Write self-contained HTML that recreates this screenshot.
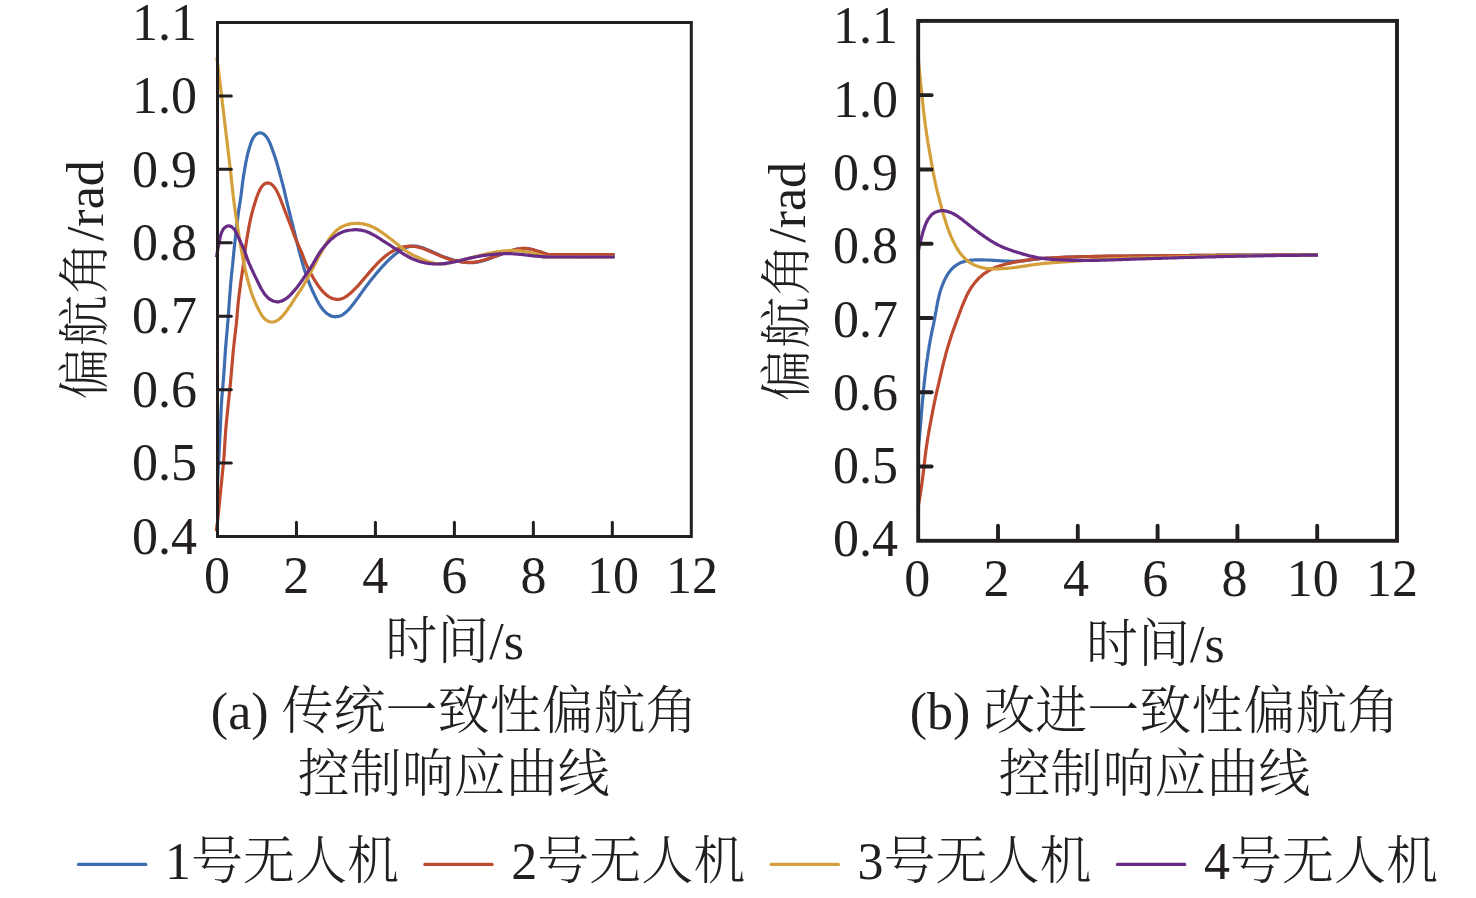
<!DOCTYPE html>
<html lang="zh"><head><meta charset="utf-8"><title>偏航角控制响应曲线</title>
<style>html,body{margin:0;padding:0;background:#fff}svg{display:block}</style></head>
<body>
<svg width="1476" height="898" viewBox="0 0 1476 898">
<rect width="1476" height="898" fill="#fff"/>
<g fill="none" stroke-width="3.2" stroke-linejoin="round" stroke-linecap="butt">
<path stroke="#3d6db0" d="M217.5 484.0C217.5 483.7 217.6 482.7 217.6 482.0C217.6 481.3 217.7 480.7 217.7 480.0C217.7 479.3 217.8 478.7 217.8 478.0C217.8 477.3 217.9 476.7 217.9 476.0C217.9 475.3 218.0 474.7 218.0 474.0C218.0 473.3 218.1 472.7 218.1 472.0C218.1 471.3 218.2 470.7 218.2 470.0C218.2 469.3 218.3 468.7 218.3 468.0C218.3 467.3 218.4 466.7 218.4 466.0C218.4 465.3 218.5 464.7 218.5 464.0C218.5 463.4 218.6 462.7 218.6 462.0C218.6 461.4 218.7 460.7 218.7 460.0C218.7 459.4 218.8 458.7 218.8 458.0C218.8 457.4 218.9 456.7 218.9 456.0C218.9 455.4 219.0 454.7 219.0 454.0C219.0 453.4 219.1 452.7 219.1 452.0C219.1 451.4 219.2 450.7 219.2 450.0C219.2 449.4 219.3 448.7 219.3 448.0C219.3 447.4 219.4 446.7 219.4 446.0C219.4 445.4 219.5 444.7 219.5 444.0C219.5 443.4 219.6 442.7 219.6 442.0C219.6 441.4 219.7 440.7 219.7 440.0C219.7 439.4 219.8 438.7 219.8 438.0C219.8 437.4 219.9 436.7 219.9 436.0C219.9 435.4 220.0 434.7 220.0 434.0C220.0 433.4 220.1 432.7 220.1 432.0C220.1 431.4 220.2 430.7 220.2 430.0C220.2 429.4 220.3 428.7 220.3 428.0C220.3 427.4 220.4 426.7 220.4 426.1C220.4 425.4 220.5 424.7 220.5 424.1C220.5 423.4 220.5 422.7 220.6 422.1C220.6 421.4 220.6 420.7 220.7 420.1C220.7 419.4 220.7 418.7 220.8 418.1C220.8 417.4 220.8 416.7 220.8 416.1C220.9 415.4 220.9 414.7 220.9 414.1C221.0 413.4 221.0 412.7 221.0 412.1C221.1 411.4 221.1 410.7 221.1 410.1C221.2 409.4 221.2 408.7 221.2 408.1C221.3 407.4 221.3 406.7 221.3 406.1C221.4 405.4 221.4 404.7 221.4 404.1C221.5 403.4 221.5 402.7 221.6 402.1C221.6 401.4 221.7 400.7 221.7 400.1C221.7 399.4 221.8 398.7 221.8 398.1C221.9 397.4 221.9 396.8 222.0 396.1C222.0 395.4 222.1 394.8 222.2 394.1C222.2 393.4 222.3 392.8 222.3 392.1C222.4 391.4 222.4 390.8 222.5 390.1C222.6 389.4 222.6 388.8 222.7 388.1C222.8 387.4 222.8 386.8 222.9 386.1C222.9 385.5 223.0 384.8 223.0 384.1C223.1 383.5 223.2 382.8 223.2 382.1C223.3 381.5 223.3 380.8 223.4 380.1C223.4 379.5 223.5 378.8 223.5 378.1C223.6 377.5 223.6 376.8 223.7 376.1C223.7 375.5 223.8 374.8 223.8 374.2C223.9 373.5 223.9 372.8 224.0 372.2C224.0 371.5 224.1 370.8 224.1 370.2C224.1 369.5 224.2 368.8 224.2 368.2C224.3 367.5 224.3 366.8 224.4 366.2C224.4 365.5 224.5 364.8 224.5 364.2C224.5 363.5 224.6 362.8 224.6 362.2C224.7 361.5 224.7 360.8 224.8 360.2C224.8 359.5 224.8 358.8 224.9 358.2C224.9 357.5 225.0 356.9 225.0 356.2C225.1 355.5 225.1 354.9 225.2 354.2C225.2 353.5 225.2 352.9 225.3 352.2C225.3 351.5 225.4 350.9 225.4 350.2C225.5 349.5 225.5 348.9 225.6 348.2C225.6 347.5 225.7 346.9 225.7 346.2C225.8 345.5 225.8 344.9 225.9 344.2C226.0 343.5 226.0 342.9 226.1 342.2C226.1 341.6 226.2 340.9 226.2 340.2C226.3 339.6 226.3 338.9 226.4 338.2C226.5 337.6 226.5 336.9 226.6 336.2C226.6 335.6 226.7 334.9 226.8 334.2C226.8 333.6 226.9 332.9 226.9 332.3C227.0 331.6 227.1 330.9 227.1 330.3C227.2 329.6 227.2 328.9 227.3 328.3C227.4 327.6 227.4 326.9 227.5 326.3C227.5 325.6 227.6 324.9 227.6 324.3C227.7 323.6 227.8 323.0 227.8 322.3C227.9 321.6 227.9 321.0 228.0 320.3C228.0 319.6 228.1 319.0 228.1 318.3C228.2 317.6 228.2 317.0 228.3 316.3C228.3 315.6 228.4 315.0 228.4 314.3C228.5 313.6 228.5 313.0 228.6 312.3C228.6 311.7 228.7 311.0 228.7 310.3C228.8 309.7 228.8 309.0 228.9 308.3C228.9 307.7 228.9 307.0 229.0 306.3C229.0 305.7 229.1 305.0 229.1 304.3C229.2 303.7 229.2 303.0 229.3 302.3C229.3 301.7 229.4 301.0 229.4 300.3C229.5 299.7 229.5 299.0 229.6 298.3C229.6 297.7 229.7 297.0 229.7 296.3C229.8 295.7 229.8 295.0 229.9 294.4C229.9 293.7 230.0 293.0 230.0 292.4C230.1 291.7 230.1 291.0 230.2 290.4C230.2 289.7 230.3 289.0 230.3 288.4C230.4 287.7 230.4 287.0 230.5 286.4C230.5 285.7 230.6 285.0 230.6 284.4C230.7 283.7 230.7 283.1 230.8 282.4C230.9 281.7 230.9 281.1 231.0 280.4C231.0 279.7 231.1 279.1 231.2 278.4C231.2 277.7 231.3 277.1 231.4 276.4C231.4 275.7 231.5 275.1 231.6 274.4C231.6 273.8 231.7 273.1 231.8 272.4C231.9 271.8 231.9 271.1 232.0 270.4C232.1 269.8 232.1 269.1 232.2 268.5C232.3 267.8 232.3 267.1 232.4 266.5C232.5 265.8 232.5 265.1 232.6 264.5C232.7 263.8 232.7 263.1 232.8 262.5C232.9 261.8 232.9 261.2 233.0 260.5C233.1 259.8 233.1 259.2 233.2 258.5C233.3 257.8 233.3 257.2 233.4 256.5C233.5 255.8 233.5 255.2 233.6 254.5C233.7 253.9 233.7 253.2 233.8 252.5C233.9 251.9 233.9 251.2 234.0 250.5C234.1 249.9 234.1 249.2 234.2 248.5C234.3 247.9 234.4 247.2 234.4 246.6C234.5 245.9 234.6 245.2 234.6 244.6C234.7 243.9 234.8 243.2 234.9 242.6C234.9 241.9 235.0 241.3 235.1 240.6C235.1 239.9 235.2 239.3 235.3 238.6C235.4 237.9 235.4 237.3 235.5 236.6C235.6 235.9 235.6 235.3 235.7 234.6C235.8 234.0 235.8 233.3 235.9 232.6C236.0 232.0 236.0 231.3 236.1 230.6C236.2 230.0 236.3 229.3 236.3 228.7C236.4 228.0 236.5 227.3 236.6 226.7C236.7 226.0 236.7 225.3 236.8 224.7C236.9 224.0 237.0 223.4 237.1 222.7C237.2 222.0 237.3 221.4 237.3 220.7C237.4 220.1 237.5 219.4 237.6 218.7C237.7 218.1 237.8 217.4 237.9 216.7C238.0 216.1 238.1 215.4 238.1 214.8C238.2 214.1 238.3 213.4 238.4 212.8C238.5 212.1 238.6 211.5 238.7 210.8C238.8 210.1 238.9 209.5 239.0 208.8C239.1 208.2 239.2 207.5 239.3 206.8C239.4 206.2 239.5 205.5 239.6 204.9C239.7 204.2 239.8 203.5 239.9 202.9C240.0 202.2 240.1 201.6 240.2 200.9C240.3 200.2 240.4 199.6 240.5 198.9C240.6 198.3 240.7 197.6 240.8 197.0C240.9 196.3 241.0 195.6 241.1 195.0C241.2 194.3 241.2 193.7 241.3 193.0C241.4 192.3 241.5 191.7 241.6 191.0C241.7 190.3 241.7 189.7 241.8 189.0C241.9 188.4 242.0 187.7 242.1 187.0C242.1 186.4 242.2 185.7 242.3 185.0C242.4 184.4 242.5 183.7 242.5 183.1C242.6 182.4 242.7 181.7 242.8 181.1C242.9 180.4 243.0 179.8 243.1 179.1C243.2 178.4 243.3 177.8 243.4 177.1C243.5 176.5 243.6 175.8 243.7 175.1C243.8 174.5 243.9 173.8 244.0 173.2C244.1 172.5 244.2 171.9 244.3 171.2C244.5 170.5 244.6 169.9 244.7 169.2C244.8 168.6 244.9 167.9 245.0 167.2C245.1 166.6 245.3 165.9 245.4 165.3C245.5 164.6 245.6 164.0 245.7 163.3C245.9 162.6 246.0 162.0 246.1 161.3C246.2 160.7 246.4 160.0 246.5 159.4C246.6 158.7 246.8 158.1 246.9 157.4C247.0 156.8 247.2 156.1 247.3 155.5C247.5 154.8 247.7 154.2 247.8 153.6C248.0 152.9 248.2 152.3 248.3 151.6C248.5 151.0 248.7 150.4 248.8 149.7C249.0 149.1 249.2 148.5 249.4 147.8C249.6 147.2 249.8 146.5 250.0 145.9C250.2 145.2 250.4 144.6 250.6 143.9C250.8 143.3 251.1 142.6 251.3 142.0C251.6 141.3 251.8 140.7 252.1 140.0C252.4 139.4 252.7 138.7 253.1 138.1C253.4 137.5 253.8 136.9 254.2 136.4C254.6 135.9 255.0 135.4 255.5 134.9C255.9 134.5 256.4 134.1 256.9 133.8C257.5 133.5 258.0 133.2 258.6 133.1C259.1 132.9 259.7 132.9 260.3 132.9C260.8 132.9 261.4 133.0 262.0 133.2C262.5 133.4 263.1 133.7 263.6 134.1C264.1 134.4 264.6 134.9 265.1 135.3C265.6 135.8 266.0 136.3 266.4 136.8C266.8 137.4 267.2 138.0 267.6 138.6C268.0 139.2 268.3 139.8 268.6 140.4C268.9 141.0 269.2 141.7 269.5 142.3C269.8 142.9 270.1 143.6 270.3 144.2C270.6 144.8 270.8 145.5 271.1 146.1C271.3 146.7 271.6 147.3 271.8 148.0C272.0 148.6 272.3 149.2 272.5 149.8C272.7 150.4 272.9 151.1 273.1 151.7C273.4 152.3 273.6 152.9 273.8 153.6C274.0 154.2 274.2 154.8 274.4 155.4C274.6 156.1 274.8 156.7 275.1 157.3C275.3 158.0 275.5 158.6 275.7 159.2C275.9 159.9 276.1 160.5 276.3 161.1C276.5 161.8 276.7 162.4 276.9 163.1C277.1 163.7 277.2 164.3 277.4 165.0C277.6 165.6 277.8 166.3 278.0 166.9C278.2 167.5 278.4 168.2 278.5 168.8C278.7 169.5 278.9 170.1 279.1 170.8C279.2 171.4 279.4 172.0 279.6 172.7C279.8 173.3 279.9 174.0 280.1 174.6C280.3 175.3 280.5 175.9 280.6 176.6C280.8 177.2 281.0 177.8 281.1 178.5C281.3 179.1 281.5 179.8 281.7 180.4C281.8 181.1 282.0 181.7 282.2 182.4C282.4 183.0 282.5 183.6 282.7 184.3C282.9 184.9 283.0 185.6 283.2 186.2C283.4 186.9 283.5 187.5 283.7 188.2C283.9 188.8 284.0 189.5 284.2 190.1C284.3 190.8 284.5 191.4 284.6 192.1C284.8 192.7 284.9 193.4 285.1 194.0C285.2 194.7 285.4 195.3 285.5 196.0C285.6 196.6 285.8 197.3 285.9 197.9C286.1 198.6 286.2 199.2 286.4 199.9C286.5 200.5 286.7 201.2 286.8 201.8C287.0 202.5 287.2 203.1 287.3 203.7C287.5 204.4 287.6 205.0 287.8 205.7C288.0 206.3 288.1 207.0 288.3 207.6C288.5 208.3 288.6 208.9 288.8 209.6C288.9 210.2 289.1 210.9 289.3 211.5C289.4 212.2 289.6 212.8 289.8 213.4C289.9 214.1 290.1 214.7 290.2 215.4C290.4 216.0 290.6 216.7 290.7 217.3C290.9 218.0 291.1 218.6 291.2 219.3C291.4 219.9 291.5 220.6 291.7 221.2C291.9 221.9 292.0 222.5 292.2 223.2C292.3 223.8 292.5 224.4 292.7 225.1C292.8 225.7 293.0 226.4 293.2 227.0C293.3 227.7 293.5 228.3 293.6 229.0C293.8 229.6 294.0 230.3 294.1 230.9C294.3 231.6 294.5 232.2 294.6 232.9C294.8 233.5 295.0 234.1 295.1 234.8C295.3 235.4 295.5 236.1 295.6 236.7C295.8 237.4 295.9 238.0 296.1 238.7C296.3 239.3 296.4 240.0 296.6 240.6C296.7 241.3 296.9 241.9 297.1 242.6C297.2 243.2 297.4 243.9 297.5 244.5C297.7 245.1 297.9 245.8 298.0 246.4C298.2 247.1 298.3 247.7 298.5 248.4C298.7 249.0 298.8 249.7 299.0 250.3C299.2 251.0 299.3 251.6 299.5 252.3C299.7 252.9 299.8 253.6 300.0 254.2C300.2 254.8 300.3 255.5 300.5 256.1C300.7 256.8 300.9 257.4 301.0 258.1C301.2 258.7 301.4 259.3 301.6 260.0C301.7 260.6 301.9 261.3 302.1 261.9C302.3 262.6 302.5 263.2 302.7 263.8C302.8 264.5 303.0 265.1 303.2 265.8C303.4 266.4 303.6 267.0 303.8 267.7C304.0 268.3 304.2 268.9 304.4 269.6C304.6 270.2 304.8 270.9 305.0 271.5C305.2 272.1 305.4 272.8 305.7 273.4C305.9 274.0 306.1 274.6 306.3 275.3C306.5 275.9 306.8 276.5 307.0 277.2C307.2 277.8 307.4 278.4 307.7 279.0C307.9 279.7 308.1 280.3 308.4 280.9C308.6 281.5 308.9 282.2 309.1 282.8C309.3 283.4 309.6 284.0 309.8 284.6C310.1 285.3 310.3 285.9 310.6 286.5C310.9 287.1 311.1 287.7 311.4 288.3C311.7 288.9 311.9 289.5 312.2 290.2C312.5 290.8 312.8 291.4 313.0 292.0C313.3 292.6 313.6 293.2 313.9 293.8C314.2 294.4 314.5 295.0 314.7 295.6C315.0 296.2 315.3 296.8 315.6 297.4C315.9 298.0 316.2 298.6 316.5 299.2C316.8 299.8 317.1 300.4 317.4 300.9C317.7 301.5 318.0 302.1 318.4 302.7C318.7 303.3 319.0 303.9 319.4 304.4C319.7 305.0 320.1 305.6 320.4 306.1C320.8 306.7 321.2 307.2 321.6 307.8C322.0 308.3 322.4 308.9 322.8 309.4C323.2 309.9 323.7 310.4 324.1 310.9C324.6 311.4 325.1 311.9 325.6 312.4C326.1 312.8 326.6 313.3 327.1 313.7C327.7 314.1 328.2 314.4 328.8 314.8C329.4 315.1 330.0 315.4 330.6 315.7C331.2 316.0 331.8 316.2 332.4 316.3C333.1 316.5 333.7 316.6 334.4 316.7C335.0 316.8 335.7 316.8 336.3 316.7C337.0 316.7 337.6 316.6 338.3 316.5C338.9 316.3 339.5 316.1 340.2 315.9C340.8 315.7 341.4 315.4 342.0 315.1C342.5 314.8 343.1 314.4 343.7 314.0C344.2 313.6 344.8 313.2 345.3 312.8C345.8 312.4 346.3 311.9 346.8 311.4C347.3 311.0 347.7 310.5 348.2 310.0C348.7 309.5 349.1 309.0 349.6 308.5C350.0 308.0 350.4 307.5 350.9 306.9C351.3 306.4 351.7 305.9 352.1 305.4C352.6 304.9 353.0 304.4 353.4 303.8C353.8 303.3 354.2 302.8 354.6 302.3C355.0 301.7 355.4 301.2 355.8 300.7C356.2 300.1 356.6 299.6 357.0 299.1C357.4 298.5 357.8 298.0 358.2 297.5C358.6 296.9 359.0 296.4 359.4 295.8C359.8 295.3 360.1 294.8 360.5 294.2C360.9 293.7 361.3 293.1 361.7 292.6C362.1 292.0 362.5 291.5 362.8 290.9C363.2 290.4 363.6 289.9 364.0 289.3C364.4 288.8 364.8 288.2 365.2 287.7C365.6 287.1 366.0 286.6 366.4 286.1C366.8 285.5 367.2 285.0 367.6 284.5C368.0 284.0 368.4 283.4 368.8 282.9C369.2 282.4 369.6 281.8 370.0 281.3C370.4 280.8 370.9 280.3 371.3 279.8C371.7 279.2 372.1 278.7 372.5 278.2C372.9 277.7 373.4 277.2 373.8 276.7C374.2 276.1 374.6 275.6 375.1 275.1C375.5 274.6 375.9 274.1 376.3 273.6C376.8 273.1 377.2 272.5 377.6 272.0C378.1 271.5 378.5 271.0 378.9 270.5C379.4 270.0 379.8 269.5 380.2 269.0C380.7 268.5 381.1 268.0 381.6 267.5C382.0 267.0 382.5 266.5 382.9 266.0C383.4 265.5 383.8 265.1 384.3 264.6C384.7 264.1 385.2 263.6 385.7 263.1C386.1 262.6 386.6 262.2 387.1 261.7C387.5 261.2 388.0 260.7 388.5 260.3C388.9 259.8 389.4 259.3 389.9 258.9C390.4 258.4 390.9 258.0 391.4 257.5C391.9 257.1 392.4 256.6 392.9 256.2C393.4 255.8 393.9 255.3 394.4 254.9C394.9 254.5 395.5 254.1 396.0 253.7C396.5 253.3 397.1 252.9 397.6 252.5C398.1 252.1 398.7 251.7 399.3 251.4C399.8 251.0 400.4 250.6 401.0 250.3C401.5 249.9 402.1 249.6 402.7 249.3C403.3 248.9 403.9 248.6 404.5 248.3C405.1 248.0 405.7 247.8 406.3 247.5C407.0 247.3 407.6 247.1 408.2 246.9C408.9 246.7 409.5 246.5 410.1 246.4C410.8 246.3 411.4 246.2 412.1 246.1C412.7 246.1 413.4 246.0 414.1 246.0C414.7 246.1 415.4 246.1 416.0 246.2C416.7 246.3 417.3 246.4 418.0 246.5C418.6 246.6 419.3 246.8 419.9 247.0C420.6 247.1 421.2 247.3 421.9 247.6C422.5 247.8 423.1 248.0 423.8 248.2C424.4 248.5 425.0 248.7 425.6 249.0C426.3 249.2 426.9 249.5 427.5 249.7C428.1 250.0 428.7 250.3 429.3 250.5C430.0 250.8 430.6 251.1 431.2 251.3C431.8 251.6 432.4 251.9 433.0 252.2C433.6 252.4 434.2 252.7 434.8 253.0C435.4 253.3 436.0 253.5 436.6 253.8C437.3 254.1 437.9 254.3 438.5 254.6C439.1 254.9 439.7 255.1 440.3 255.4C440.9 255.7 441.5 255.9 442.2 256.2C442.8 256.4 443.4 256.7 444.0 256.9C444.6 257.1 445.3 257.4 445.9 257.6C446.5 257.8 447.1 258.0 447.8 258.2C448.4 258.5 449.0 258.7 449.7 258.9C450.3 259.1 451.0 259.3 451.6 259.4C452.2 259.6 452.9 259.8 453.5 260.0C454.2 260.2 454.8 260.3 455.5 260.5C456.1 260.7 456.8 260.8 457.4 261.0C458.1 261.1 458.7 261.3 459.4 261.4C460.0 261.6 460.7 261.7 461.3 261.8C462.0 261.9 462.6 262.0 463.3 262.1C464.0 262.2 464.6 262.3 465.3 262.4C465.9 262.5 466.6 262.5 467.3 262.6C467.9 262.6 468.6 262.7 469.3 262.7C469.9 262.7 470.6 262.7 471.3 262.7C471.9 262.6 472.6 262.6 473.3 262.6C473.9 262.5 474.6 262.4 475.3 262.4C475.9 262.3 476.6 262.2 477.2 262.1C477.9 262.0 478.5 261.8 479.2 261.7C479.9 261.6 480.5 261.4 481.1 261.3C481.8 261.1 482.4 260.9 483.1 260.7C483.7 260.6 484.4 260.4 485.0 260.2C485.6 260.0 486.3 259.8 486.9 259.5C487.5 259.3 488.2 259.1 488.8 258.9C489.4 258.7 490.0 258.4 490.7 258.2C491.3 258.0 491.9 257.7 492.6 257.5C493.2 257.3 493.8 257.1 494.4 256.8C495.1 256.6 495.7 256.4 496.3 256.1C496.9 255.9 497.6 255.7 498.2 255.5C498.8 255.2 499.4 255.0 500.1 254.8C500.7 254.6 501.3 254.3 502.0 254.1C502.6 253.9 503.2 253.7 503.8 253.4C504.5 253.2 505.1 253.0 505.7 252.8C506.4 252.5 507.0 252.3 507.6 252.1C508.2 251.9 508.9 251.6 509.5 251.4C510.1 251.2 510.8 251.0 511.4 250.8C512.0 250.6 512.7 250.3 513.3 250.2C514.0 250.0 514.6 249.8 515.2 249.6C515.9 249.4 516.5 249.3 517.2 249.2C517.8 249.0 518.5 248.9 519.2 248.8C519.8 248.7 520.5 248.6 521.1 248.6C521.8 248.5 522.5 248.5 523.1 248.4C523.8 248.4 524.5 248.4 525.1 248.5C525.8 248.5 526.5 248.5 527.1 248.6C527.8 248.7 528.4 248.8 529.1 248.9C529.8 249.0 530.4 249.1 531.1 249.2C531.7 249.4 532.4 249.5 533.0 249.7C533.7 249.9 534.3 250.1 534.9 250.3C535.6 250.4 536.2 250.7 536.9 250.9C537.5 251.1 538.1 251.3 538.8 251.5C539.4 251.7 540.0 251.9 540.7 252.1C541.3 252.3 541.9 252.5 542.6 252.7C543.2 252.9 543.8 253.2 544.5 253.4C545.1 253.6 545.7 253.7 546.4 253.9C547.0 254.1 536.9 254.4 548.3 254.5C559.7 254.6 603.6 254.5 614.7 254.5"/>
<path stroke="#be4b2f" d="M216.3 531.0C216.3 530.7 216.5 529.7 216.6 529.0C216.6 528.4 216.7 527.7 216.8 527.0C216.9 526.4 217.0 525.7 217.1 525.0C217.1 524.4 217.2 523.7 217.3 523.1C217.4 522.4 217.5 521.7 217.6 521.1C217.6 520.4 217.7 519.7 217.8 519.1C217.9 518.4 217.9 517.8 218.0 517.1C218.1 516.4 218.2 515.8 218.2 515.1C218.3 514.4 218.4 513.8 218.4 513.1C218.5 512.4 218.6 511.8 218.6 511.1C218.7 510.5 218.8 509.8 218.8 509.1C218.9 508.5 219.0 507.8 219.0 507.1C219.1 506.5 219.2 505.8 219.2 505.1C219.3 504.5 219.3 503.8 219.4 503.1C219.5 502.5 219.5 501.8 219.6 501.2C219.7 500.5 219.7 499.8 219.8 499.2C219.9 498.5 219.9 497.8 220.0 497.2C220.1 496.5 220.1 495.8 220.2 495.2C220.3 494.5 220.3 493.9 220.4 493.2C220.5 492.5 220.5 491.9 220.6 491.2C220.7 490.5 220.7 489.9 220.8 489.2C220.9 488.5 220.9 487.9 221.0 487.2C221.1 486.5 221.1 485.9 221.2 485.2C221.3 484.6 221.3 483.9 221.4 483.2C221.5 482.6 221.5 481.9 221.6 481.2C221.7 480.6 221.7 479.9 221.8 479.2C221.9 478.6 222.0 477.9 222.0 477.3C222.1 476.6 222.2 475.9 222.2 475.3C222.3 474.6 222.4 473.9 222.4 473.3C222.5 472.6 222.6 471.9 222.6 471.3C222.7 470.6 222.8 470.0 222.8 469.3C222.9 468.6 223.0 468.0 223.0 467.3C223.1 466.6 223.2 466.0 223.2 465.3C223.3 464.6 223.4 464.0 223.4 463.3C223.5 462.6 223.5 462.0 223.6 461.3C223.6 460.6 223.7 460.0 223.8 459.3C223.8 458.7 223.9 458.0 223.9 457.3C224.0 456.7 224.0 456.0 224.1 455.3C224.1 454.7 224.2 454.0 224.2 453.3C224.2 452.7 224.3 452.0 224.3 451.3C224.4 450.7 224.4 450.0 224.5 449.3C224.5 448.7 224.6 448.0 224.6 447.3C224.6 446.7 224.7 446.0 224.7 445.3C224.8 444.7 224.8 444.0 224.8 443.3C224.9 442.7 224.9 442.0 225.0 441.3C225.0 440.7 225.1 440.0 225.1 439.3C225.1 438.7 225.2 438.0 225.2 437.3C225.3 436.7 225.3 436.0 225.4 435.3C225.4 434.7 225.4 434.0 225.5 433.4C225.5 432.7 225.6 432.0 225.6 431.4C225.7 430.7 225.7 430.0 225.8 429.4C225.8 428.7 225.9 428.0 225.9 427.4C226.0 426.7 226.1 426.0 226.1 425.4C226.2 424.7 226.2 424.0 226.3 423.4C226.4 422.7 226.4 422.0 226.5 421.4C226.5 420.7 226.6 420.1 226.7 419.4C226.7 418.7 226.8 418.1 226.9 417.4C226.9 416.7 227.0 416.1 227.1 415.4C227.1 414.7 227.2 414.1 227.3 413.4C227.4 412.8 227.4 412.1 227.5 411.4C227.6 410.8 227.6 410.1 227.7 409.4C227.8 408.8 227.8 408.1 227.9 407.4C228.0 406.8 228.1 406.1 228.1 405.5C228.2 404.8 228.3 404.1 228.3 403.5C228.4 402.8 228.5 402.1 228.5 401.5C228.6 400.8 228.7 400.1 228.8 399.5C228.8 398.8 228.9 398.2 229.0 397.5C229.0 396.8 229.1 396.2 229.2 395.5C229.2 394.8 229.3 394.2 229.4 393.5C229.4 392.8 229.5 392.2 229.6 391.5C229.6 390.8 229.7 390.2 229.8 389.5C229.8 388.9 229.9 388.2 230.0 387.5C230.0 386.9 230.1 386.2 230.2 385.5C230.2 384.9 230.3 384.2 230.4 383.5C230.4 382.9 230.5 382.2 230.6 381.6C230.6 380.9 230.7 380.2 230.7 379.6C230.8 378.9 230.9 378.2 230.9 377.6C231.0 376.9 231.0 376.2 231.1 375.6C231.2 374.9 231.2 374.2 231.3 373.6C231.3 372.9 231.4 372.2 231.5 371.6C231.5 370.9 231.6 370.3 231.6 369.6C231.7 368.9 231.8 368.3 231.8 367.6C231.9 366.9 231.9 366.3 232.0 365.6C232.0 364.9 232.1 364.3 232.2 363.6C232.2 362.9 232.3 362.3 232.3 361.6C232.4 360.9 232.4 360.3 232.5 359.6C232.6 358.9 232.6 358.3 232.7 357.6C232.7 357.0 232.8 356.3 232.9 355.6C232.9 355.0 233.0 354.3 233.0 353.6C233.1 353.0 233.2 352.3 233.2 351.6C233.3 351.0 233.3 350.3 233.4 349.6C233.5 349.0 233.5 348.3 233.6 347.7C233.7 347.0 233.7 346.3 233.8 345.7C233.9 345.0 233.9 344.3 234.0 343.7C234.1 343.0 234.2 342.3 234.2 341.7C234.3 341.0 234.4 340.4 234.5 339.7C234.5 339.0 234.6 338.4 234.7 337.7C234.8 337.0 234.8 336.4 234.9 335.7C235.0 335.1 235.1 334.4 235.2 333.7C235.2 333.1 235.3 332.4 235.4 331.7C235.5 331.1 235.6 330.4 235.6 329.8C235.7 329.1 235.8 328.4 235.9 327.8C235.9 327.1 236.0 326.4 236.1 325.8C236.2 325.1 236.2 324.4 236.3 323.8C236.4 323.1 236.5 322.5 236.5 321.8C236.6 321.1 236.7 320.5 236.7 319.8C236.8 319.1 236.8 318.5 236.9 317.8C237.0 317.1 237.0 316.5 237.1 315.8C237.1 315.1 237.2 314.5 237.2 313.8C237.3 313.2 237.4 312.5 237.4 311.8C237.5 311.2 237.5 310.5 237.6 309.8C237.6 309.2 237.7 308.5 237.7 307.8C237.8 307.2 237.8 306.5 237.9 305.8C238.0 305.2 238.0 304.5 238.1 303.8C238.1 303.2 238.2 302.5 238.3 301.9C238.3 301.2 238.4 300.5 238.5 299.9C238.6 299.2 238.6 298.5 238.7 297.9C238.8 297.2 238.9 296.5 239.0 295.9C239.0 295.2 239.1 294.6 239.2 293.9C239.3 293.2 239.4 292.6 239.5 291.9C239.6 291.3 239.7 290.6 239.7 289.9C239.8 289.3 239.9 288.6 240.0 287.9C240.1 287.3 240.2 286.6 240.3 286.0C240.4 285.3 240.5 284.6 240.5 284.0C240.6 283.3 240.7 282.7 240.8 282.0C240.9 281.3 241.0 280.7 241.1 280.0C241.2 279.3 241.3 278.7 241.4 278.0C241.5 277.4 241.6 276.7 241.7 276.0C241.8 275.4 241.9 274.7 242.0 274.1C242.1 273.4 242.2 272.8 242.3 272.1C242.4 271.4 242.5 270.8 242.6 270.1C242.7 269.5 242.8 268.8 242.9 268.1C243.0 267.5 243.1 266.8 243.2 266.2C243.3 265.5 243.4 264.8 243.5 264.2C243.6 263.5 243.6 262.8 243.7 262.2C243.8 261.5 243.9 260.9 244.0 260.2C244.0 259.5 244.1 258.9 244.2 258.2C244.3 257.5 244.3 256.9 244.4 256.2C244.5 255.6 244.6 254.9 244.7 254.2C244.7 253.6 244.8 252.9 244.9 252.2C245.0 251.6 245.1 250.9 245.1 250.3C245.2 249.6 245.3 248.9 245.4 248.3C245.5 247.6 245.6 247.0 245.7 246.3C245.8 245.6 245.9 245.0 246.0 244.3C246.1 243.7 246.2 243.0 246.3 242.3C246.4 241.7 246.5 241.0 246.6 240.4C246.7 239.7 246.8 239.0 246.9 238.4C247.0 237.7 247.2 237.1 247.3 236.4C247.4 235.8 247.5 235.1 247.6 234.4C247.7 233.8 247.8 233.1 248.0 232.5C248.1 231.8 248.2 231.2 248.3 230.5C248.4 229.8 248.6 229.2 248.7 228.5C248.8 227.9 248.9 227.2 249.0 226.6C249.2 225.9 249.3 225.3 249.4 224.6C249.6 223.9 249.7 223.3 249.8 222.6C250.0 222.0 250.1 221.3 250.2 220.7C250.4 220.0 250.5 219.4 250.6 218.7C250.8 218.1 250.9 217.4 251.1 216.8C251.2 216.1 251.4 215.5 251.6 214.8C251.7 214.2 251.9 213.5 252.0 212.9C252.2 212.2 252.4 211.6 252.6 210.9C252.7 210.3 252.9 209.6 253.1 209.0C253.3 208.4 253.5 207.7 253.6 207.1C253.8 206.4 254.0 205.8 254.2 205.2C254.4 204.5 254.6 203.9 254.8 203.3C255.0 202.6 255.2 202.0 255.4 201.4C255.6 200.8 255.8 200.1 256.0 199.5C256.2 198.9 256.4 198.2 256.6 197.6C256.9 197.0 257.1 196.3 257.3 195.7C257.6 195.1 257.8 194.4 258.1 193.8C258.3 193.2 258.6 192.5 258.9 191.9C259.2 191.2 259.4 190.6 259.8 190.0C260.1 189.3 260.4 188.7 260.8 188.1C261.2 187.5 261.5 186.9 262.0 186.4C262.4 185.9 262.8 185.4 263.3 184.9C263.7 184.5 264.2 184.1 264.7 183.8C265.3 183.5 265.8 183.2 266.3 183.1C266.9 183.0 267.4 182.9 268.0 182.9C268.5 183.0 269.1 183.1 269.7 183.3C270.2 183.5 270.7 183.8 271.3 184.2C271.8 184.5 272.3 184.9 272.8 185.4C273.3 185.9 273.7 186.4 274.1 186.9C274.6 187.5 275.0 188.1 275.4 188.6C275.8 189.2 276.1 189.8 276.5 190.4C276.8 191.0 277.1 191.7 277.5 192.3C277.8 192.9 278.1 193.5 278.3 194.1C278.6 194.8 278.9 195.4 279.2 196.0C279.4 196.6 279.7 197.2 279.9 197.8C280.2 198.5 280.4 199.1 280.7 199.7C280.9 200.3 281.2 200.9 281.4 201.5C281.6 202.1 281.9 202.8 282.1 203.4C282.3 204.0 282.6 204.6 282.8 205.2C283.1 205.9 283.3 206.5 283.5 207.1C283.8 207.7 284.0 208.4 284.2 209.0C284.5 209.6 284.7 210.2 285.0 210.9C285.2 211.5 285.4 212.1 285.7 212.7C285.9 213.3 286.2 214.0 286.4 214.6C286.7 215.2 286.9 215.8 287.1 216.5C287.4 217.1 287.6 217.7 287.9 218.3C288.1 218.9 288.3 219.6 288.6 220.2C288.8 220.8 289.1 221.4 289.3 222.1C289.6 222.7 289.8 223.3 290.0 223.9C290.3 224.5 290.5 225.2 290.7 225.8C291.0 226.4 291.2 227.0 291.5 227.7C291.7 228.3 291.9 228.9 292.2 229.5C292.4 230.2 292.6 230.8 292.9 231.4C293.1 232.0 293.3 232.7 293.5 233.3C293.8 233.9 294.0 234.6 294.2 235.2C294.5 235.8 294.7 236.4 294.9 237.1C295.2 237.7 295.4 238.3 295.7 238.9C295.9 239.5 296.2 240.2 296.4 240.8C296.7 241.4 296.9 242.0 297.2 242.6C297.5 243.2 297.7 243.8 298.0 244.4C298.3 245.1 298.6 245.7 298.8 246.3C299.1 246.9 299.4 247.5 299.7 248.1C300.0 248.7 300.2 249.3 300.5 249.9C300.8 250.5 301.0 251.1 301.3 251.7C301.6 252.3 301.8 253.0 302.1 253.6C302.3 254.2 302.6 254.8 302.8 255.4C303.0 256.1 303.3 256.7 303.5 257.3C303.7 257.9 303.9 258.6 304.2 259.2C304.4 259.8 304.6 260.5 304.9 261.1C305.1 261.7 305.4 262.3 305.6 262.9C305.9 263.6 306.1 264.2 306.4 264.8C306.7 265.4 306.9 266.0 307.2 266.6C307.5 267.2 307.8 267.8 308.1 268.4C308.4 269.0 308.7 269.6 309.0 270.2C309.3 270.8 309.6 271.4 309.9 271.9C310.3 272.5 310.6 273.1 310.9 273.7C311.2 274.3 311.6 274.9 311.9 275.4C312.2 276.0 312.6 276.6 312.9 277.2C313.2 277.8 313.6 278.3 313.9 278.9C314.2 279.5 314.6 280.1 314.9 280.6C315.3 281.2 315.7 281.8 316.0 282.3C316.4 282.9 316.7 283.4 317.1 284.0C317.5 284.5 317.9 285.1 318.2 285.6C318.6 286.2 319.0 286.7 319.4 287.3C319.8 287.8 320.2 288.3 320.6 288.8C321.0 289.4 321.5 289.9 321.9 290.4C322.3 290.9 322.8 291.4 323.2 291.9C323.7 292.4 324.2 292.9 324.7 293.3C325.1 293.8 325.6 294.2 326.2 294.7C326.7 295.1 327.2 295.5 327.8 295.9C328.3 296.3 328.9 296.7 329.4 297.0C330.0 297.4 330.6 297.7 331.2 298.0C331.8 298.3 332.5 298.5 333.1 298.7C333.7 298.9 334.4 299.1 335.0 299.2C335.6 299.3 336.3 299.4 337.0 299.4C337.6 299.5 338.3 299.4 338.9 299.4C339.5 299.3 340.2 299.2 340.8 299.0C341.5 298.9 342.1 298.6 342.7 298.4C343.3 298.1 343.9 297.9 344.5 297.5C345.1 297.2 345.7 296.9 346.2 296.5C346.8 296.1 347.3 295.7 347.9 295.3C348.4 294.9 348.9 294.5 349.5 294.0C350.0 293.6 350.5 293.1 351.0 292.7C351.5 292.2 352.0 291.8 352.5 291.3C352.9 290.9 353.4 290.4 353.9 289.9C354.4 289.4 354.8 289.0 355.3 288.5C355.8 288.0 356.2 287.5 356.7 287.1C357.2 286.6 357.6 286.1 358.1 285.6C358.5 285.1 359.0 284.6 359.4 284.1C359.8 283.6 360.3 283.1 360.7 282.6C361.2 282.1 361.6 281.6 362.0 281.1C362.5 280.6 362.9 280.1 363.3 279.6C363.8 279.1 364.2 278.6 364.6 278.1C365.0 277.5 365.5 277.0 365.9 276.5C366.3 276.0 366.8 275.5 367.2 275.0C367.6 274.5 368.0 274.0 368.5 273.5C368.9 272.9 369.3 272.4 369.8 271.9C370.2 271.4 370.7 270.9 371.1 270.4C371.5 269.9 372.0 269.4 372.4 268.9C372.9 268.4 373.3 267.9 373.8 267.4C374.2 266.9 374.7 266.5 375.1 266.0C375.6 265.5 376.0 265.0 376.5 264.5C376.9 264.0 377.4 263.5 377.9 263.1C378.3 262.6 378.8 262.1 379.3 261.6C379.8 261.2 380.2 260.7 380.7 260.2C381.2 259.8 381.7 259.3 382.2 258.9C382.7 258.4 383.2 258.0 383.7 257.5C384.2 257.1 384.7 256.6 385.2 256.2C385.7 255.8 386.2 255.4 386.8 255.0C387.3 254.6 387.8 254.2 388.4 253.8C388.9 253.4 389.5 253.1 390.0 252.7C390.6 252.4 391.2 252.0 391.8 251.7C392.3 251.4 392.9 251.0 393.5 250.7C394.1 250.4 394.7 250.1 395.3 249.8C395.9 249.5 396.5 249.3 397.1 249.0C397.7 248.7 398.4 248.5 399.0 248.3C399.6 248.0 400.3 247.8 400.9 247.6C401.5 247.4 402.2 247.3 402.8 247.1C403.5 247.0 404.1 246.8 404.8 246.7C405.4 246.6 406.1 246.5 406.8 246.4C407.4 246.3 408.1 246.3 408.8 246.2C409.4 246.2 410.1 246.2 410.8 246.2C411.4 246.2 412.1 246.2 412.8 246.3C413.4 246.3 414.1 246.4 414.8 246.5C415.4 246.5 416.1 246.6 416.7 246.8C417.4 246.9 418.0 247.0 418.7 247.2C419.3 247.4 420.0 247.5 420.6 247.7C421.2 247.9 421.9 248.1 422.5 248.3C423.2 248.5 423.8 248.8 424.4 249.0C425.0 249.2 425.7 249.5 426.3 249.7C426.9 250.0 427.5 250.2 428.1 250.5C428.7 250.8 429.4 251.0 430.0 251.3C430.6 251.6 431.2 251.8 431.8 252.1C432.4 252.4 433.0 252.7 433.6 252.9C434.2 253.2 434.8 253.5 435.5 253.7C436.1 254.0 436.7 254.3 437.3 254.6C437.9 254.8 438.5 255.1 439.1 255.4C439.7 255.6 440.3 255.9 441.0 256.1C441.6 256.4 442.2 256.6 442.8 256.9C443.4 257.1 444.1 257.3 444.7 257.6C445.3 257.8 446.0 258.0 446.6 258.2C447.2 258.4 447.9 258.6 448.5 258.8C449.1 259.0 449.8 259.2 450.4 259.4C451.0 259.6 451.7 259.8 452.3 260.0C453.0 260.1 453.6 260.3 454.3 260.4C454.9 260.6 455.6 260.7 456.2 260.9C456.9 261.0 457.5 261.2 458.2 261.3C458.9 261.4 459.5 261.5 460.2 261.6C460.8 261.7 461.5 261.8 462.2 261.9C462.8 262.0 463.5 262.1 464.1 262.1C464.8 262.2 465.5 262.2 466.1 262.3C466.8 262.3 467.5 262.3 468.1 262.4C468.8 262.4 469.5 262.4 470.1 262.3C470.8 262.3 471.5 262.3 472.1 262.3C472.8 262.2 473.5 262.1 474.1 262.1C474.8 262.0 475.5 261.9 476.1 261.8C476.8 261.7 477.4 261.6 478.1 261.5C478.7 261.3 479.4 261.2 480.0 261.0C480.7 260.9 481.3 260.7 482.0 260.6C482.6 260.4 483.3 260.2 483.9 260.0C484.6 259.8 485.2 259.7 485.8 259.5C486.5 259.3 487.1 259.1 487.8 258.8C488.4 258.6 489.0 258.4 489.6 258.2C490.3 258.0 490.9 257.8 491.5 257.6C492.2 257.3 492.8 257.1 493.4 256.9C494.1 256.7 494.7 256.4 495.3 256.2C495.9 256.0 496.6 255.8 497.2 255.5C497.8 255.3 498.5 255.1 499.1 254.9C499.7 254.6 500.3 254.4 501.0 254.2C501.6 254.0 502.2 253.7 502.9 253.5C503.5 253.3 504.1 253.1 504.7 252.9C505.4 252.6 506.0 252.4 506.6 252.2C507.3 252.0 507.9 251.8 508.5 251.6C509.2 251.3 509.8 251.1 510.4 250.9C511.1 250.7 511.7 250.5 512.4 250.3C513.0 250.1 513.6 249.9 514.3 249.8C514.9 249.6 515.6 249.4 516.2 249.3C516.9 249.1 517.5 249.0 518.2 248.9C518.8 248.7 519.5 248.6 520.2 248.6C520.8 248.5 521.5 248.4 522.2 248.4C522.8 248.4 523.5 248.3 524.1 248.3C524.8 248.3 525.5 248.4 526.1 248.4C526.8 248.5 527.5 248.5 528.1 248.6C528.8 248.7 529.4 248.8 530.1 249.0C530.8 249.1 531.4 249.2 532.1 249.4C532.7 249.5 533.4 249.7 534.0 249.9C534.6 250.1 535.3 250.3 535.9 250.5C536.6 250.6 537.2 250.9 537.8 251.1C538.5 251.3 539.1 251.5 539.7 251.7C540.4 251.9 541.0 252.1 541.6 252.3C542.3 252.6 542.9 252.8 543.5 253.0C544.2 253.2 544.8 253.4 545.4 253.6C546.1 253.8 546.9 254.1 547.3 254.2C547.8 254.4 537.1 254.5 548.3 254.5C559.5 254.5 603.6 254.5 614.7 254.5"/>
<path stroke="#d4a03b" d="M216.9 57.5C216.9 57.8 217.1 58.8 217.1 59.5C217.2 60.1 217.3 60.8 217.4 61.5C217.5 62.1 217.5 62.8 217.6 63.5C217.7 64.1 217.8 64.8 217.9 65.4C217.9 66.1 218.0 66.8 218.1 67.4C218.2 68.1 218.3 68.8 218.3 69.4C218.4 70.1 218.5 70.7 218.6 71.4C218.7 72.1 218.8 72.7 218.8 73.4C218.9 74.0 219.0 74.7 219.1 75.4C219.2 76.0 219.2 76.7 219.3 77.4C219.4 78.0 219.5 78.7 219.6 79.3C219.6 80.0 219.7 80.7 219.8 81.3C219.9 82.0 220.0 82.7 220.0 83.3C220.1 84.0 220.2 84.6 220.3 85.3C220.4 86.0 220.4 86.6 220.5 87.3C220.6 88.0 220.7 88.6 220.8 89.3C220.8 89.9 220.9 90.6 221.0 91.3C221.1 91.9 221.2 92.6 221.2 93.2C221.3 93.9 221.4 94.6 221.5 95.2C221.6 95.9 221.6 96.6 221.7 97.2C221.8 97.9 221.9 98.5 222.0 99.2C222.0 99.9 222.1 100.5 222.2 101.2C222.3 101.9 222.3 102.5 222.4 103.2C222.5 103.8 222.6 104.5 222.7 105.2C222.7 105.8 222.8 106.5 222.9 107.2C223.0 107.8 223.1 108.5 223.1 109.1C223.2 109.8 223.3 110.5 223.4 111.1C223.5 111.8 223.5 112.4 223.6 113.1C223.7 113.8 223.8 114.4 223.9 115.1C223.9 115.8 224.0 116.4 224.1 117.1C224.2 117.7 224.3 118.4 224.3 119.1C224.4 119.7 224.5 120.4 224.6 121.1C224.7 121.7 224.7 122.4 224.8 123.0C224.9 123.7 225.0 124.4 225.0 125.0C225.1 125.7 225.2 126.4 225.3 127.0C225.4 127.7 225.4 128.3 225.5 129.0C225.6 129.7 225.7 130.3 225.8 131.0C225.8 131.7 225.9 132.3 226.0 133.0C226.1 133.6 226.2 134.3 226.2 135.0C226.3 135.6 226.4 136.3 226.5 136.9C226.5 137.6 226.6 138.3 226.7 138.9C226.8 139.6 226.9 140.3 226.9 140.9C227.0 141.6 227.1 142.2 227.2 142.9C227.3 143.6 227.3 144.2 227.4 144.9C227.5 145.6 227.6 146.2 227.7 146.9C227.7 147.5 227.8 148.2 227.9 148.9C228.0 149.5 228.0 150.2 228.1 150.9C228.2 151.5 228.3 152.2 228.4 152.8C228.4 153.5 228.5 154.2 228.6 154.8C228.7 155.5 228.7 156.2 228.8 156.8C228.9 157.5 229.0 158.1 229.1 158.8C229.1 159.5 229.2 160.1 229.3 160.8C229.4 161.5 229.5 162.1 229.5 162.8C229.6 163.4 229.7 164.1 229.8 164.8C229.8 165.4 229.9 166.1 230.0 166.7C230.1 167.4 230.1 168.1 230.2 168.7C230.3 169.4 230.4 170.1 230.5 170.7C230.5 171.4 230.6 172.0 230.7 172.7C230.8 173.4 230.8 174.0 230.9 174.7C231.0 175.4 231.0 176.0 231.1 176.7C231.2 177.4 231.3 178.0 231.3 178.7C231.4 179.3 231.5 180.0 231.6 180.7C231.6 181.3 231.7 182.0 231.8 182.7C231.8 183.3 231.9 184.0 232.0 184.6C232.1 185.3 232.1 186.0 232.2 186.6C232.3 187.3 232.4 188.0 232.4 188.6C232.5 189.3 232.6 189.9 232.6 190.6C232.7 191.3 232.8 191.9 232.9 192.6C232.9 193.3 233.0 193.9 233.1 194.6C233.2 195.2 233.2 195.9 233.3 196.6C233.4 197.2 233.5 197.9 233.6 198.6C233.6 199.2 233.7 199.9 233.8 200.5C233.9 201.2 234.0 201.9 234.1 202.5C234.1 203.2 234.2 203.9 234.3 204.5C234.4 205.2 234.5 205.8 234.6 206.5C234.7 207.2 234.8 207.8 234.9 208.5C234.9 209.1 235.0 209.8 235.1 210.5C235.2 211.1 235.3 211.8 235.4 212.4C235.5 213.1 235.6 213.8 235.7 214.4C235.8 215.1 235.9 215.7 236.0 216.4C236.1 217.1 236.2 217.7 236.3 218.4C236.4 219.0 236.5 219.7 236.6 220.4C236.7 221.0 236.8 221.7 236.9 222.3C237.0 223.0 237.1 223.7 237.2 224.3C237.3 225.0 237.4 225.6 237.5 226.3C237.6 226.9 237.7 227.6 237.8 228.3C237.9 228.9 238.0 229.6 238.1 230.2C238.2 230.9 238.3 231.6 238.4 232.2C238.5 232.9 238.7 233.5 238.8 234.2C238.9 234.8 239.0 235.5 239.1 236.2C239.2 236.8 239.3 237.5 239.4 238.1C239.5 238.8 239.7 239.4 239.8 240.1C239.9 240.8 240.0 241.4 240.1 242.1C240.2 242.7 240.3 243.4 240.4 244.1C240.5 244.7 240.6 245.4 240.8 246.0C240.9 246.7 241.0 247.3 241.1 248.0C241.2 248.7 241.3 249.3 241.4 250.0C241.5 250.6 241.6 251.3 241.8 251.9C241.9 252.6 242.0 253.3 242.1 253.9C242.2 254.6 242.4 255.2 242.5 255.9C242.6 256.5 242.7 257.2 242.8 257.8C243.0 258.5 243.1 259.2 243.2 259.8C243.3 260.5 243.5 261.1 243.6 261.8C243.7 262.4 243.8 263.1 244.0 263.7C244.1 264.4 244.2 265.0 244.4 265.7C244.5 266.4 244.7 267.0 244.8 267.7C244.9 268.3 245.1 269.0 245.2 269.6C245.4 270.3 245.5 270.9 245.7 271.6C245.8 272.2 246.0 272.9 246.1 273.5C246.3 274.2 246.5 274.8 246.6 275.4C246.8 276.1 246.9 276.7 247.1 277.4C247.3 278.0 247.4 278.7 247.6 279.3C247.8 280.0 247.9 280.6 248.1 281.3C248.3 281.9 248.5 282.5 248.6 283.2C248.8 283.8 249.0 284.5 249.2 285.1C249.4 285.8 249.6 286.4 249.7 287.0C249.9 287.7 250.1 288.3 250.3 289.0C250.5 289.6 250.7 290.2 250.9 290.9C251.1 291.5 251.3 292.1 251.5 292.8C251.7 293.4 252.0 294.0 252.2 294.7C252.4 295.3 252.6 295.9 252.9 296.5C253.1 297.2 253.3 297.8 253.6 298.4C253.8 299.0 254.1 299.6 254.3 300.3C254.6 300.9 254.8 301.5 255.1 302.1C255.4 302.7 255.6 303.3 255.9 303.9C256.2 304.5 256.4 305.1 256.7 305.7C257.0 306.3 257.3 306.9 257.6 307.5C257.9 308.1 258.2 308.7 258.5 309.3C258.8 309.9 259.1 310.5 259.4 311.1C259.7 311.7 260.1 312.3 260.4 312.9C260.7 313.5 261.1 314.1 261.5 314.7C261.8 315.2 262.2 315.8 262.6 316.4C263.0 316.9 263.5 317.5 263.9 318.0C264.4 318.5 264.9 318.9 265.4 319.4C265.9 319.8 266.4 320.2 267.0 320.5C267.5 320.9 268.1 321.2 268.7 321.4C269.3 321.6 269.9 321.8 270.5 321.9C271.2 322.0 271.8 322.0 272.4 322.0C273.0 322.0 273.7 321.9 274.3 321.7C274.9 321.6 275.5 321.3 276.1 321.1C276.7 320.8 277.3 320.5 277.9 320.1C278.4 319.7 279.0 319.3 279.5 318.9C280.0 318.5 280.5 318.0 281.0 317.5C281.5 317.0 282.0 316.5 282.4 316.0C282.9 315.5 283.3 315.0 283.8 314.5C284.2 314.0 284.6 313.4 285.0 312.9C285.5 312.4 285.9 311.8 286.3 311.3C286.7 310.7 287.1 310.2 287.5 309.7C287.8 309.1 288.2 308.6 288.6 308.0C289.0 307.5 289.4 307.0 289.7 306.4C290.1 305.9 290.5 305.3 290.9 304.8C291.2 304.2 291.6 303.7 292.0 303.1C292.3 302.5 292.7 302.0 293.0 301.4C293.4 300.9 293.8 300.3 294.1 299.7C294.5 299.2 294.8 298.6 295.2 298.1C295.6 297.5 295.9 296.9 296.3 296.4C296.7 295.8 297.0 295.3 297.4 294.7C297.8 294.2 298.2 293.6 298.5 293.1C298.9 292.5 299.3 292.0 299.6 291.4C300.0 290.8 300.4 290.3 300.7 289.7C301.1 289.2 301.5 288.6 301.8 288.1C302.2 287.5 302.5 286.9 302.9 286.3C303.2 285.8 303.5 285.2 303.9 284.6C304.2 284.1 304.6 283.5 304.9 282.9C305.2 282.3 305.5 281.7 305.9 281.2C306.2 280.6 306.5 280.0 306.8 279.4C307.2 278.8 307.5 278.2 307.8 277.6C308.1 277.1 308.4 276.5 308.7 275.9C309.1 275.3 309.4 274.7 309.7 274.1C310.0 273.5 310.3 272.9 310.6 272.3C310.9 271.8 311.2 271.2 311.5 270.6C311.8 270.0 312.2 269.4 312.5 268.8C312.8 268.2 313.1 267.6 313.4 267.0C313.7 266.4 314.0 265.8 314.3 265.2C314.6 264.6 314.9 264.1 315.2 263.5C315.5 262.9 315.8 262.3 316.1 261.7C316.4 261.1 316.8 260.5 317.1 259.9C317.4 259.3 317.7 258.7 318.0 258.2C318.3 257.6 318.7 257.0 319.0 256.4C319.3 255.8 319.6 255.2 319.9 254.6C320.3 254.1 320.6 253.5 320.9 252.9C321.2 252.3 321.6 251.7 321.9 251.2C322.2 250.6 322.6 250.0 322.9 249.4C323.2 248.8 323.5 248.3 323.9 247.7C324.2 247.1 324.5 246.5 324.9 245.9C325.2 245.4 325.6 244.8 325.9 244.2C326.2 243.7 326.6 243.1 326.9 242.5C327.3 241.9 327.6 241.4 328.0 240.8C328.4 240.3 328.7 239.7 329.1 239.1C329.5 238.6 329.9 238.0 330.2 237.5C330.6 237.0 331.0 236.4 331.5 235.9C331.9 235.4 332.3 234.9 332.7 234.4C333.2 233.8 333.6 233.3 334.1 232.9C334.5 232.4 335.0 231.9 335.5 231.4C336.0 231.0 336.5 230.5 337.0 230.1C337.5 229.7 338.0 229.3 338.5 228.9C339.1 228.5 339.6 228.1 340.2 227.7C340.7 227.4 341.3 227.0 341.9 226.7C342.5 226.4 343.1 226.1 343.7 225.9C344.3 225.6 344.9 225.4 345.6 225.1C346.2 224.9 346.8 224.7 347.5 224.6C348.1 224.4 348.8 224.2 349.4 224.1C350.1 223.9 350.7 223.8 351.4 223.7C352.1 223.6 352.7 223.6 353.4 223.5C354.1 223.4 354.7 223.4 355.4 223.4C356.1 223.4 356.7 223.3 357.4 223.4C358.1 223.4 358.7 223.4 359.4 223.4C360.1 223.5 360.7 223.6 361.4 223.6C362.1 223.7 362.7 223.8 363.4 223.9C364.0 224.1 364.7 224.2 365.3 224.4C366.0 224.5 366.6 224.7 367.2 224.9C367.9 225.1 368.5 225.3 369.1 225.5C369.8 225.8 370.4 226.0 371.0 226.3C371.6 226.5 372.2 226.8 372.8 227.1C373.4 227.4 374.0 227.7 374.6 228.0C375.2 228.3 375.8 228.6 376.4 228.9C377.0 229.3 377.5 229.6 378.1 230.0C378.7 230.3 379.2 230.7 379.8 231.0C380.4 231.4 380.9 231.8 381.5 232.1C382.0 232.5 382.6 232.9 383.1 233.3C383.7 233.7 384.2 234.1 384.7 234.4C385.3 234.8 385.8 235.2 386.3 235.6C386.9 236.0 387.4 236.4 387.9 236.8C388.5 237.2 389.0 237.6 389.5 238.0C390.1 238.4 390.6 238.8 391.1 239.3C391.7 239.7 392.2 240.1 392.7 240.5C393.2 240.9 393.8 241.3 394.3 241.7C394.8 242.1 395.3 242.6 395.8 243.0C396.4 243.4 396.9 243.8 397.4 244.2C397.9 244.7 398.4 245.1 398.9 245.5C399.4 245.9 400.0 246.4 400.5 246.8C401.0 247.2 401.5 247.6 402.0 248.0C402.6 248.4 403.1 248.8 403.6 249.2C404.2 249.6 404.7 250.0 405.3 250.4C405.8 250.8 406.4 251.2 406.9 251.5C407.5 251.9 408.0 252.2 408.6 252.6C409.2 252.9 409.7 253.3 410.3 253.6C410.9 253.9 411.5 254.3 412.1 254.6C412.7 254.9 413.3 255.2 413.8 255.5C414.4 255.8 415.0 256.1 415.6 256.4C416.3 256.6 416.9 256.9 417.5 257.2C418.1 257.5 418.7 257.7 419.3 258.0C419.9 258.3 420.5 258.5 421.1 258.8C421.8 259.0 422.4 259.3 423.0 259.5C423.6 259.8 424.2 260.0 424.9 260.3C425.5 260.5 426.1 260.8 426.7 261.0C427.4 261.2 428.0 261.4 428.6 261.7C429.3 261.9 429.9 262.1 430.5 262.3C431.2 262.5 431.8 262.7 432.5 262.8C433.1 263.0 433.8 263.1 434.4 263.2C435.1 263.4 435.7 263.5 436.4 263.6C437.0 263.6 437.7 263.7 438.4 263.7C439.0 263.8 439.7 263.8 440.4 263.8C441.0 263.8 441.7 263.8 442.3 263.7C443.0 263.7 443.7 263.6 444.3 263.6C445.0 263.5 445.7 263.4 446.3 263.3C447.0 263.2 447.6 263.1 448.3 263.0C449.0 262.9 449.6 262.7 450.3 262.6C450.9 262.5 451.6 262.4 452.2 262.2C452.9 262.1 453.5 261.9 454.2 261.8C454.9 261.6 455.5 261.5 456.2 261.4C456.8 261.2 457.5 261.1 458.1 260.9C458.8 260.8 459.4 260.6 460.1 260.4C460.7 260.3 461.3 260.1 462.0 260.0C462.6 259.8 463.3 259.7 463.9 259.5C464.6 259.4 465.2 259.2 465.9 259.1C466.5 258.9 467.2 258.7 467.8 258.6C468.5 258.4 469.1 258.2 469.8 258.1C470.4 257.9 471.1 257.8 471.7 257.6C472.4 257.4 473.0 257.3 473.6 257.1C474.3 256.9 474.9 256.7 475.6 256.6C476.2 256.4 476.9 256.2 477.5 256.1C478.2 255.9 478.8 255.7 479.4 255.6C480.1 255.4 480.7 255.2 481.4 255.1C482.0 254.9 482.7 254.7 483.3 254.6C484.0 254.4 484.6 254.3 485.3 254.2C485.9 254.0 486.6 253.9 487.2 253.7C487.9 253.6 488.5 253.5 489.2 253.3C489.8 253.2 490.5 253.1 491.2 253.0C491.8 252.8 492.5 252.7 493.1 252.6C493.8 252.5 494.4 252.3 495.1 252.2C495.7 252.1 496.4 252.0 497.1 251.9C497.7 251.8 498.4 251.7 499.0 251.6C499.7 251.4 500.4 251.3 501.0 251.3C501.7 251.2 502.3 251.1 503.0 251.0C503.7 250.9 504.3 250.8 505.0 250.8C505.7 250.7 506.3 250.6 507.0 250.6C507.6 250.5 508.3 250.5 509.0 250.5C509.6 250.4 510.3 250.4 511.0 250.4C511.6 250.4 512.3 250.4 513.0 250.4C513.6 250.4 514.3 250.4 515.0 250.5C515.6 250.5 516.3 250.6 517.0 250.6C517.6 250.7 518.3 250.7 519.0 250.8C519.6 250.9 520.3 250.9 521.0 251.0C521.6 251.1 522.3 251.2 522.9 251.3C523.6 251.4 524.3 251.5 524.9 251.6C525.6 251.7 526.2 251.9 526.9 252.0C527.5 252.1 528.2 252.2 528.8 252.4C529.5 252.5 530.2 252.6 530.8 252.8C531.5 252.9 532.1 253.0 532.8 253.2C533.4 253.3 534.1 253.5 534.7 253.6C535.4 253.8 536.0 254.0 536.7 254.1C537.3 254.3 537.9 254.5 538.6 254.6C539.2 254.8 539.9 255.0 540.5 255.1C541.2 255.3 541.8 255.5 542.5 255.6C543.1 255.8 543.7 256.0 544.4 256.1C545.0 256.3 545.7 256.4 546.3 256.6C547.0 256.7 536.9 256.9 548.3 257.0C559.7 257.1 603.6 257.0 614.7 257.0"/>
<path stroke="#692c86" d="M216.6 257.0C216.6 256.7 216.8 255.7 216.9 255.0C217.0 254.4 217.1 253.7 217.2 253.0C217.3 252.4 217.4 251.7 217.5 251.1C217.6 250.4 217.7 249.8 217.8 249.1C218.0 248.5 218.1 247.8 218.2 247.2C218.3 246.5 218.5 245.9 218.6 245.2C218.7 244.6 218.8 243.9 219.0 243.3C219.1 242.6 219.2 242.0 219.4 241.3C219.5 240.6 219.6 240.0 219.8 239.3C219.9 238.6 220.1 238.0 220.2 237.3C220.4 236.6 220.6 235.9 220.7 235.3C220.9 234.6 221.1 233.9 221.4 233.2C221.6 232.6 221.9 231.9 222.2 231.3C222.5 230.7 222.8 230.0 223.1 229.5C223.5 228.9 223.9 228.4 224.3 227.9C224.8 227.5 225.3 227.1 225.8 226.8C226.3 226.5 226.8 226.2 227.3 226.1C227.9 225.9 228.4 225.9 229.0 225.9C229.5 226.0 230.1 226.1 230.6 226.3C231.2 226.6 231.7 226.9 232.2 227.3C232.7 227.6 233.2 228.1 233.6 228.6C234.1 229.1 234.5 229.6 234.9 230.2C235.3 230.8 235.6 231.4 235.9 232.0C236.3 232.6 236.6 233.3 236.9 233.9C237.2 234.5 237.5 235.2 237.8 235.8C238.1 236.4 238.3 237.1 238.6 237.7C238.9 238.3 239.1 238.9 239.4 239.5C239.7 240.2 240.0 240.8 240.3 241.4C240.5 242.0 240.8 242.6 241.1 243.2C241.4 243.7 241.7 244.3 242.0 244.9C242.2 245.5 242.5 246.1 242.8 246.7C243.1 247.3 243.3 247.9 243.6 248.5C243.9 249.1 244.1 249.8 244.4 250.4C244.6 251.0 244.8 251.6 245.1 252.2C245.3 252.9 245.5 253.5 245.7 254.1C245.9 254.8 246.2 255.4 246.4 256.0C246.6 256.7 246.8 257.3 247.0 257.9C247.2 258.5 247.4 259.2 247.7 259.8C247.9 260.4 248.1 261.0 248.4 261.7C248.6 262.3 248.9 262.9 249.1 263.5C249.4 264.1 249.7 264.7 250.0 265.3C250.2 266.0 250.5 266.6 250.8 267.2C251.1 267.8 251.4 268.4 251.6 269.0C251.9 269.6 252.2 270.2 252.5 270.8C252.8 271.4 253.1 272.0 253.3 272.6C253.6 273.2 253.9 273.8 254.2 274.4C254.5 275.0 254.8 275.6 255.0 276.2C255.3 276.8 255.6 277.4 255.9 278.0C256.2 278.6 256.5 279.2 256.8 279.8C257.1 280.4 257.3 281.0 257.6 281.6C257.9 282.2 258.2 282.8 258.5 283.4C258.8 284.0 259.1 284.6 259.4 285.2C259.7 285.8 260.0 286.4 260.3 287.0C260.7 287.6 261.0 288.2 261.3 288.8C261.6 289.3 262.0 289.9 262.3 290.5C262.6 291.1 263.0 291.6 263.4 292.2C263.7 292.8 264.1 293.3 264.5 293.9C264.9 294.4 265.3 294.9 265.8 295.4C266.2 296.0 266.7 296.5 267.1 296.9C267.6 297.4 268.1 297.9 268.6 298.3C269.2 298.7 269.7 299.1 270.3 299.5C270.8 299.9 271.4 300.2 272.0 300.5C272.6 300.8 273.2 301.0 273.8 301.2C274.5 301.4 275.1 301.6 275.8 301.6C276.4 301.7 277.1 301.8 277.7 301.8C278.4 301.8 279.0 301.7 279.6 301.6C280.3 301.5 280.9 301.3 281.5 301.1C282.2 300.9 282.8 300.6 283.4 300.3C284.0 300.0 284.6 299.7 285.1 299.3C285.7 299.0 286.2 298.6 286.8 298.1C287.3 297.7 287.8 297.3 288.3 296.8C288.8 296.4 289.3 295.9 289.8 295.5C290.3 295.0 290.8 294.5 291.2 294.0C291.7 293.5 292.2 293.0 292.6 292.5C293.1 292.0 293.5 291.5 293.9 291.0C294.4 290.5 294.8 290.0 295.2 289.5C295.6 289.0 296.0 288.5 296.5 287.9C296.9 287.4 297.3 286.9 297.7 286.4C298.1 285.8 298.5 285.3 298.9 284.8C299.3 284.2 299.7 283.7 300.1 283.2C300.5 282.6 300.9 282.1 301.2 281.5C301.6 281.0 302.0 280.4 302.4 279.9C302.8 279.3 303.1 278.8 303.5 278.2C303.9 277.7 304.3 277.1 304.7 276.6C305.0 276.0 305.4 275.5 305.8 274.9C306.2 274.4 306.5 273.8 306.9 273.3C307.3 272.7 307.7 272.2 308.0 271.6C308.4 271.1 308.8 270.5 309.2 270.0C309.5 269.4 309.9 268.9 310.3 268.3C310.6 267.7 311.0 267.2 311.3 266.6C311.7 266.1 312.0 265.5 312.4 264.9C312.7 264.3 313.1 263.8 313.4 263.2C313.7 262.6 314.1 262.0 314.4 261.5C314.7 260.9 315.1 260.3 315.4 259.7C315.7 259.1 316.0 258.6 316.4 258.0C316.7 257.4 317.0 256.8 317.4 256.3C317.7 255.7 318.1 255.1 318.4 254.6C318.8 254.0 319.2 253.4 319.5 252.9C319.9 252.3 320.3 251.8 320.7 251.2C321.0 250.7 321.4 250.2 321.8 249.6C322.2 249.1 322.7 248.6 323.1 248.0C323.5 247.5 323.9 247.0 324.3 246.5C324.8 246.0 325.2 245.5 325.6 245.0C326.1 244.5 326.5 244.0 327.0 243.5C327.4 243.0 327.9 242.5 328.4 242.0C328.8 241.6 329.3 241.1 329.8 240.6C330.3 240.2 330.7 239.7 331.2 239.2C331.7 238.8 332.2 238.4 332.8 237.9C333.3 237.5 333.8 237.1 334.3 236.7C334.9 236.3 335.4 235.9 336.0 235.5C336.5 235.2 337.1 234.8 337.6 234.5C338.2 234.1 338.8 233.8 339.4 233.5C340.0 233.2 340.6 232.9 341.2 232.6C341.8 232.3 342.4 232.1 343.0 231.8C343.7 231.6 344.3 231.4 344.9 231.2C345.6 231.0 346.2 230.8 346.9 230.7C347.5 230.5 348.2 230.4 348.8 230.3C349.5 230.1 350.1 230.0 350.8 230.0C351.5 229.9 352.1 229.8 352.8 229.8C353.5 229.7 354.1 229.7 354.8 229.7C355.5 229.7 356.1 229.7 356.8 229.7C357.5 229.8 358.1 229.8 358.8 229.9C359.5 229.9 360.1 230.0 360.8 230.1C361.4 230.2 362.1 230.4 362.7 230.5C363.4 230.7 364.0 230.8 364.7 231.0C365.3 231.2 365.9 231.4 366.6 231.6C367.2 231.9 367.8 232.1 368.4 232.4C369.1 232.6 369.7 232.9 370.3 233.2C370.9 233.5 371.5 233.8 372.1 234.1C372.6 234.4 373.2 234.7 373.8 235.0C374.4 235.4 375.0 235.7 375.6 236.0C376.1 236.4 376.7 236.7 377.3 237.1C377.8 237.4 378.4 237.8 379.0 238.1C379.5 238.5 380.1 238.8 380.7 239.2C381.2 239.5 381.8 239.9 382.4 240.3C382.9 240.6 383.5 241.0 384.0 241.3C384.6 241.7 385.2 242.1 385.7 242.4C386.3 242.8 386.8 243.2 387.4 243.5C387.9 243.9 388.5 244.3 389.1 244.6C389.6 245.0 390.2 245.4 390.7 245.7C391.3 246.1 391.9 246.4 392.4 246.8C393.0 247.2 393.5 247.5 394.1 247.9C394.7 248.2 395.2 248.6 395.8 249.0C396.3 249.3 396.9 249.7 397.5 250.0C398.0 250.4 398.6 250.8 399.1 251.1C399.7 251.5 400.3 251.9 400.8 252.2C401.4 252.6 402.0 252.9 402.5 253.3C403.1 253.7 403.6 254.0 404.2 254.4C404.8 254.7 405.3 255.1 405.9 255.4C406.5 255.7 407.1 256.1 407.7 256.4C408.2 256.7 408.8 257.0 409.4 257.3C410.0 257.6 410.6 257.9 411.2 258.2C411.8 258.5 412.4 258.8 413.0 259.1C413.6 259.3 414.3 259.6 414.9 259.8C415.5 260.1 416.1 260.3 416.7 260.5C417.4 260.8 418.0 261.0 418.6 261.2C419.3 261.4 419.9 261.6 420.6 261.8C421.2 262.0 421.8 262.1 422.5 262.3C423.1 262.4 423.8 262.6 424.4 262.7C425.1 262.9 425.7 263.0 426.4 263.1C427.1 263.2 427.7 263.3 428.4 263.4C429.0 263.5 429.7 263.6 430.4 263.7C431.0 263.7 431.7 263.8 432.4 263.8C433.0 263.9 433.7 263.9 434.4 264.0C435.0 264.0 435.7 264.0 436.4 264.0C437.0 264.0 437.7 264.0 438.4 264.0C439.0 264.0 439.7 264.0 440.4 263.9C441.0 263.9 441.7 263.8 442.4 263.8C443.0 263.7 443.7 263.7 444.3 263.6C445.0 263.5 445.7 263.4 446.3 263.3C447.0 263.2 447.6 263.1 448.3 263.0C448.9 262.9 449.6 262.7 450.3 262.6C450.9 262.5 451.6 262.4 452.2 262.2C452.9 262.1 453.5 261.9 454.2 261.8C454.8 261.7 455.5 261.5 456.1 261.4C456.8 261.2 457.4 261.1 458.1 260.9C458.7 260.8 459.4 260.6 460.0 260.5C460.7 260.3 461.3 260.1 462.0 260.0C462.6 259.8 463.3 259.7 463.9 259.5C464.6 259.4 465.2 259.2 465.9 259.0C466.5 258.9 467.2 258.7 467.8 258.6C468.5 258.4 469.1 258.3 469.8 258.1C470.4 258.0 471.1 257.8 471.7 257.7C472.4 257.5 473.0 257.4 473.7 257.3C474.3 257.1 475.0 257.0 475.6 256.9C476.3 256.7 476.9 256.6 477.6 256.5C478.2 256.4 478.9 256.3 479.6 256.1C480.2 256.0 480.9 255.9 481.5 255.8C482.2 255.7 482.9 255.6 483.5 255.5C484.2 255.5 484.8 255.4 485.5 255.3C486.2 255.2 486.8 255.1 487.5 255.0C488.1 255.0 488.8 254.9 489.5 254.8C490.1 254.7 490.8 254.7 491.5 254.6C492.1 254.5 492.8 254.5 493.5 254.4C494.1 254.4 494.8 254.3 495.5 254.2C496.1 254.2 496.8 254.1 497.4 254.1C498.1 254.0 498.8 254.0 499.4 253.9C500.1 253.9 500.8 253.8 501.4 253.8C502.1 253.8 502.8 253.7 503.4 253.7C504.1 253.7 504.8 253.7 505.4 253.7C506.1 253.6 506.8 253.6 507.4 253.6C508.1 253.6 508.8 253.6 509.4 253.6C510.1 253.7 510.8 253.7 511.4 253.7C512.1 253.7 512.8 253.8 513.4 253.8C514.1 253.8 514.8 253.9 515.4 253.9C516.1 254.0 516.8 254.1 517.4 254.1C518.1 254.2 518.8 254.2 519.4 254.3C520.1 254.4 520.7 254.4 521.4 254.5C522.1 254.6 522.7 254.7 523.4 254.7C524.1 254.8 524.7 254.9 525.4 255.0C526.0 255.0 526.7 255.1 527.4 255.2C528.0 255.3 528.7 255.4 529.4 255.4C530.0 255.5 530.7 255.6 531.3 255.6C532.0 255.7 532.7 255.8 533.3 255.9C534.0 255.9 534.7 256.0 535.3 256.1C536.0 256.1 536.7 256.2 537.3 256.2C538.0 256.3 538.7 256.4 539.3 256.4C540.0 256.5 540.6 256.5 541.3 256.6C542.0 256.6 542.6 256.7 543.3 256.7C544.0 256.8 544.6 256.8 545.3 256.8C546.0 256.9 546.8 256.9 547.3 256.9C547.8 257.0 537.1 257.0 548.3 257.0C559.5 257.0 603.6 257.0 614.7 257.0"/>
</g>
<g fill="none" stroke-width="3.2" stroke-linejoin="round" stroke-linecap="butt">
<path stroke="#3d6db0" d="M918.3 449.0C918.3 448.7 918.4 447.7 918.5 447.0C918.6 446.3 918.6 445.7 918.7 445.0C918.8 444.3 918.8 443.7 918.9 443.0C918.9 442.4 919.0 441.7 919.1 441.0C919.1 440.4 919.2 439.7 919.3 439.0C919.3 438.4 919.4 437.7 919.4 437.0C919.5 436.4 919.6 435.7 919.6 435.0C919.7 434.4 919.7 433.7 919.8 433.1C919.9 432.4 919.9 431.7 920.0 431.1C920.0 430.4 920.1 429.7 920.2 429.1C920.2 428.4 920.3 427.7 920.3 427.1C920.4 426.4 920.4 425.7 920.5 425.1C920.6 424.4 920.6 423.7 920.7 423.1C920.7 422.4 920.8 421.7 920.8 421.1C920.9 420.4 920.9 419.8 921.0 419.1C921.0 418.4 921.1 417.8 921.2 417.1C921.2 416.4 921.3 415.8 921.3 415.1C921.4 414.4 921.4 413.8 921.5 413.1C921.5 412.4 921.6 411.8 921.6 411.1C921.7 410.4 921.8 409.8 921.8 409.1C921.9 408.4 921.9 407.8 922.0 407.1C922.0 406.5 922.1 405.8 922.2 405.1C922.2 404.5 922.3 403.8 922.3 403.1C922.4 402.5 922.5 401.8 922.5 401.1C922.6 400.5 922.6 399.8 922.7 399.1C922.8 398.5 922.8 397.8 922.9 397.1C922.9 396.5 923.0 395.8 923.1 395.2C923.1 394.5 923.2 393.8 923.3 393.2C923.3 392.5 923.4 391.8 923.4 391.2C923.5 390.5 923.6 389.8 923.6 389.2C923.7 388.5 923.8 387.8 923.8 387.2C923.9 386.5 924.0 385.9 924.0 385.2C924.1 384.5 924.2 383.9 924.2 383.2C924.3 382.5 924.4 381.9 924.5 381.2C924.5 380.5 924.6 379.9 924.7 379.2C924.7 378.6 924.8 377.9 924.9 377.2C925.0 376.6 925.0 375.9 925.1 375.2C925.2 374.6 925.3 373.9 925.4 373.2C925.4 372.6 925.5 371.9 925.6 371.3C925.7 370.6 925.8 369.9 925.8 369.3C925.9 368.6 926.0 367.9 926.1 367.3C926.2 366.6 926.3 366.0 926.4 365.3C926.5 364.6 926.5 364.0 926.6 363.3C926.7 362.7 926.8 362.0 926.9 361.3C927.0 360.7 927.1 360.0 927.2 359.4C927.3 358.7 927.4 358.0 927.5 357.4C927.6 356.7 927.7 356.0 927.8 355.4C927.8 354.7 927.9 354.1 928.0 353.4C928.1 352.7 928.2 352.1 928.3 351.4C928.4 350.8 928.6 350.1 928.7 349.4C928.8 348.8 928.9 348.1 929.0 347.5C929.1 346.8 929.2 346.2 929.3 345.5C929.4 344.8 929.5 344.2 929.7 343.5C929.8 342.9 929.9 342.2 930.0 341.6C930.1 340.9 930.2 340.2 930.4 339.6C930.5 338.9 930.6 338.3 930.7 337.6C930.9 337.0 931.0 336.3 931.1 335.7C931.3 335.0 931.4 334.3 931.5 333.7C931.7 333.0 931.8 332.4 931.9 331.7C932.1 331.1 932.2 330.4 932.3 329.8C932.5 329.1 932.6 328.5 932.7 327.8C932.9 327.2 933.0 326.5 933.2 325.9C933.3 325.2 933.4 324.5 933.6 323.9C933.7 323.2 933.8 322.6 934.0 321.9C934.1 321.3 934.2 320.6 934.3 320.0C934.5 319.3 934.6 318.7 934.7 318.0C934.8 317.3 935.0 316.7 935.1 316.0C935.2 315.4 935.3 314.7 935.4 314.1C935.6 313.4 935.7 312.7 935.8 312.1C935.9 311.4 936.0 310.8 936.2 310.1C936.3 309.5 936.4 308.8 936.5 308.1C936.6 307.5 936.7 306.8 936.9 306.2C937.0 305.5 937.1 304.9 937.2 304.2C937.4 303.6 937.5 302.9 937.6 302.2C937.8 301.6 937.9 300.9 938.0 300.3C938.2 299.6 938.3 299.0 938.5 298.3C938.6 297.7 938.8 297.0 938.9 296.4C939.1 295.7 939.2 295.1 939.4 294.5C939.6 293.8 939.8 293.2 939.9 292.5C940.1 291.9 940.3 291.2 940.5 290.6C940.7 290.0 940.9 289.3 941.1 288.7C941.3 288.1 941.5 287.4 941.8 286.8C942.0 286.2 942.2 285.5 942.5 284.9C942.7 284.3 943.0 283.7 943.2 283.1C943.5 282.4 943.8 281.8 944.0 281.2C944.3 280.6 944.6 280.0 944.9 279.4C945.2 278.8 945.5 278.2 945.8 277.6C946.1 277.0 946.5 276.4 946.8 275.8C947.1 275.2 947.5 274.7 947.9 274.1C948.2 273.5 948.6 273.0 949.0 272.4C949.4 271.9 949.8 271.4 950.2 270.8C950.6 270.3 951.1 269.8 951.5 269.3C952.0 268.8 952.4 268.4 952.9 267.9C953.4 267.4 953.9 267.0 954.4 266.6C954.9 266.2 955.4 265.8 955.9 265.4C956.5 265.0 957.0 264.7 957.6 264.3C958.2 264.0 958.7 263.7 959.3 263.4C959.9 263.1 960.5 262.8 961.1 262.6C961.7 262.3 962.4 262.1 963.0 261.9C963.6 261.7 964.3 261.5 964.9 261.3C965.5 261.1 966.2 261.0 966.8 260.8C967.5 260.7 968.2 260.6 968.8 260.5C969.5 260.4 970.1 260.3 970.8 260.2C971.5 260.2 972.1 260.1 972.8 260.1C973.5 260.0 974.2 260.0 974.8 259.9C975.5 259.9 976.2 259.9 976.9 259.9C977.5 259.9 978.2 259.9 978.9 259.9C979.5 259.9 980.2 259.9 980.9 259.9C981.6 259.9 982.2 259.9 982.9 259.9C983.6 259.9 984.2 259.9 984.9 260.0C985.6 260.0 986.2 260.0 986.9 260.0C987.6 260.1 988.2 260.1 988.9 260.1C989.6 260.1 990.2 260.2 990.9 260.2C991.6 260.2 992.2 260.3 992.9 260.3C993.6 260.4 994.2 260.4 994.9 260.4C995.6 260.5 996.2 260.5 996.9 260.6C997.6 260.6 998.2 260.7 998.9 260.7C999.6 260.7 1000.2 260.8 1000.9 260.8C1001.5 260.9 1002.2 260.9 1002.9 260.9C1003.5 261.0 1004.2 261.0 1004.9 261.1C1005.5 261.1 1006.2 261.1 1006.9 261.1C1007.5 261.2 1008.2 261.2 1008.9 261.2C1009.5 261.2 1010.2 261.3 1010.9 261.3C1011.5 261.3 1012.2 261.3 1012.9 261.3C1013.5 261.3 1014.2 261.3 1014.9 261.3C1015.5 261.2 1016.2 261.2 1016.9 261.2C1017.5 261.2 1018.2 261.1 1018.9 261.1C1019.5 261.1 1020.2 261.0 1020.9 261.0C1021.5 260.9 1022.2 260.8 1022.9 260.8C1023.5 260.7 1024.2 260.6 1024.9 260.6C1025.5 260.5 1026.2 260.4 1026.8 260.3C1027.5 260.3 1028.2 260.2 1028.8 260.1C1029.5 260.0 1030.2 259.9 1030.8 259.8C1031.5 259.7 1032.1 259.7 1032.8 259.6C1033.5 259.5 1034.1 259.4 1034.8 259.3C1035.4 259.2 1036.1 259.2 1036.8 259.1C1037.4 259.0 1038.1 258.9 1038.8 258.9C1039.4 258.8 1040.1 258.7 1040.8 258.7C1041.4 258.6 1042.1 258.5 1042.7 258.5C1043.4 258.4 1044.1 258.4 1044.7 258.3C1045.4 258.3 1046.1 258.2 1046.7 258.2C1047.4 258.2 1048.1 258.1 1048.7 258.1C1049.4 258.0 1050.1 258.0 1050.7 258.0C1051.4 257.9 1052.1 257.9 1052.7 257.9C1053.4 257.8 1054.1 257.8 1054.7 257.8C1055.4 257.7 1056.1 257.7 1056.7 257.7C1057.4 257.6 1058.1 257.6 1058.7 257.6C1059.4 257.5 1060.1 257.5 1060.7 257.5C1061.4 257.5 1062.1 257.4 1062.7 257.4C1063.4 257.4 1064.1 257.3 1064.7 257.3C1065.4 257.3 1066.1 257.3 1066.7 257.2C1067.4 257.2 1068.1 257.2 1068.7 257.2C1069.4 257.1 1070.1 257.1 1070.7 257.1C1071.4 257.1 1072.1 257.0 1072.7 257.0C1073.4 257.0 1074.1 257.0 1074.7 257.0C1075.4 256.9 1076.1 256.9 1076.7 256.9C1077.4 256.9 1078.1 256.9 1078.7 256.8C1079.4 256.8 1080.1 256.8 1080.8 256.8C1081.4 256.8 1082.1 256.8 1082.8 256.7C1083.4 256.7 1084.1 256.7 1084.8 256.7C1085.4 256.7 1086.1 256.7 1086.8 256.7C1087.4 256.6 1088.1 256.6 1088.8 256.6C1089.4 256.6 1090.1 256.6 1090.8 256.6C1091.4 256.6 1092.1 256.5 1092.8 256.5C1093.4 256.5 1094.1 256.5 1094.8 256.5C1095.4 256.5 1096.1 256.5 1096.8 256.4C1097.4 256.4 1098.1 256.4 1098.8 256.4C1099.4 256.4 1100.1 256.4 1100.8 256.4C1101.4 256.4 1102.1 256.4 1102.8 256.3C1103.4 256.3 1104.1 256.3 1104.8 256.3C1105.4 256.3 1106.1 256.3 1106.8 256.3C1107.4 256.3 1108.1 256.3 1108.8 256.2C1109.4 256.2 1110.1 256.2 1110.8 256.2C1111.4 256.2 1112.1 256.2 1112.8 256.2C1113.4 256.2 1114.1 256.2 1114.8 256.2C1115.4 256.2 1116.1 256.2 1116.8 256.1C1117.5 256.1 1118.1 256.1 1118.8 256.1C1119.5 256.1 1120.1 256.1 1120.8 256.1C1121.5 256.1 1122.1 256.1 1122.8 256.1C1123.5 256.1 1124.1 256.1 1124.8 256.1C1125.5 256.0 1126.1 256.0 1126.8 256.0C1127.5 256.0 1128.1 256.0 1128.8 256.0C1129.5 256.0 1130.1 256.0 1130.8 256.0C1131.5 256.0 1132.1 256.0 1132.8 256.0C1133.5 256.0 1134.1 256.0 1134.8 255.9C1135.5 255.9 1136.1 255.9 1136.8 255.9C1137.5 255.9 1138.1 255.9 1138.8 255.9C1139.5 255.9 1140.1 255.9 1140.8 255.9C1141.5 255.9 1142.1 255.9 1142.8 255.9C1143.5 255.9 1144.1 255.9 1144.8 255.8C1145.5 255.8 1146.1 255.8 1146.8 255.8C1147.5 255.8 1148.2 255.8 1148.8 255.8C1149.5 255.8 1150.2 255.8 1150.8 255.8C1151.5 255.8 1152.2 255.8 1152.8 255.8C1153.5 255.8 1154.2 255.8 1154.8 255.8C1155.5 255.7 1156.2 255.7 1156.8 255.7C1157.5 255.7 1158.2 255.7 1158.8 255.7C1159.5 255.7 1160.2 255.7 1160.8 255.7C1161.5 255.7 1162.2 255.7 1162.8 255.7C1163.5 255.7 1164.2 255.7 1164.8 255.7C1165.5 255.7 1166.2 255.6 1166.8 255.6C1167.5 255.6 1168.2 255.6 1168.8 255.6C1169.5 255.6 1170.2 255.6 1170.8 255.6C1171.5 255.6 1172.2 255.6 1172.8 255.6C1173.5 255.6 1174.2 255.6 1174.8 255.6C1175.5 255.6 1176.2 255.6 1176.8 255.6C1177.5 255.5 1178.2 255.5 1178.8 255.5C1179.5 255.5 1180.2 255.5 1180.9 255.5C1181.5 255.5 1182.2 255.5 1182.9 255.5C1183.5 255.5 1184.2 255.5 1184.9 255.5C1185.5 255.5 1186.2 255.5 1186.9 255.5C1187.5 255.5 1188.2 255.5 1188.9 255.5C1189.5 255.4 1190.2 255.4 1190.9 255.4C1191.5 255.4 1192.2 255.4 1192.9 255.4C1193.5 255.4 1194.2 255.4 1194.9 255.4C1195.5 255.4 1196.2 255.4 1196.9 255.4C1197.5 255.4 1198.2 255.4 1198.9 255.4C1199.5 255.4 1200.2 255.4 1200.9 255.4C1201.5 255.4 1202.2 255.3 1202.9 255.3C1203.5 255.3 1204.2 255.3 1204.9 255.3C1205.5 255.3 1206.2 255.3 1206.9 255.3C1207.5 255.3 1208.2 255.3 1208.9 255.3C1209.5 255.3 1210.2 255.3 1210.9 255.3C1211.6 255.3 1212.2 255.3 1212.9 255.3C1213.6 255.3 1214.2 255.3 1214.9 255.3C1215.6 255.3 1216.2 255.3 1216.9 255.2C1217.6 255.2 1218.2 255.2 1218.9 255.2C1219.6 255.2 1220.2 255.2 1220.9 255.2C1221.6 255.2 1222.2 255.2 1222.9 255.2C1223.6 255.2 1224.2 255.2 1224.9 255.2C1225.6 255.2 1226.2 255.2 1226.9 255.2C1227.6 255.2 1228.2 255.2 1228.9 255.2C1229.6 255.2 1230.2 255.2 1230.9 255.2C1231.6 255.2 1232.2 255.1 1232.9 255.1C1233.6 255.1 1234.2 255.1 1234.9 255.1C1235.6 255.1 1236.2 255.1 1236.9 255.1C1237.6 255.1 1238.2 255.1 1238.9 255.1C1239.6 255.1 1240.2 255.1 1240.9 255.1C1241.6 255.1 1242.3 255.1 1242.9 255.1C1243.6 255.1 1244.3 255.1 1244.9 255.1C1245.6 255.1 1246.3 255.1 1246.9 255.1C1247.6 255.1 1248.3 255.1 1248.9 255.1C1249.6 255.0 1250.3 255.0 1250.9 255.0C1251.6 255.0 1252.3 255.0 1252.9 255.0C1253.6 255.0 1254.3 255.0 1254.9 255.0C1255.6 255.0 1256.3 255.0 1256.9 255.0C1257.6 255.0 1258.3 255.0 1258.9 255.0C1259.6 255.0 1260.3 255.0 1260.9 255.0C1261.6 255.0 1262.3 255.0 1262.9 255.0C1263.6 255.0 1264.3 255.0 1264.9 255.0C1265.6 255.0 1266.3 255.0 1266.9 255.0C1267.6 255.0 1268.3 255.0 1268.9 255.0C1269.6 255.0 1270.3 255.0 1270.9 255.0C1271.6 255.0 1272.3 254.9 1273.0 254.9C1273.6 254.9 1274.3 254.9 1275.0 254.9C1275.6 254.9 1276.3 254.9 1277.0 254.9C1277.6 254.9 1278.3 254.9 1279.0 254.9C1279.6 254.9 1280.3 254.9 1281.0 254.9C1281.6 254.9 1282.3 254.9 1283.0 254.9C1283.6 254.9 1284.3 254.9 1285.0 254.9C1285.6 254.9 1286.3 254.9 1287.0 254.9C1287.6 254.9 1288.3 254.9 1289.0 254.9C1289.6 254.9 1290.3 254.9 1291.0 254.9C1291.6 254.9 1292.3 254.9 1293.0 254.9C1293.6 254.9 1294.3 254.9 1295.0 254.9C1295.6 254.9 1296.3 254.9 1297.0 254.9C1297.6 254.9 1298.3 254.9 1299.0 254.9C1299.6 254.8 1300.3 254.8 1301.0 254.8C1301.6 254.8 1302.3 254.8 1303.0 254.8C1303.7 254.8 1304.3 254.8 1305.0 254.8C1305.7 254.8 1306.3 254.8 1307.0 254.8C1307.7 254.8 1308.3 254.8 1309.0 254.8C1309.7 254.8 1310.3 254.8 1311.0 254.8C1311.7 254.8 1312.3 254.8 1313.0 254.8C1313.7 254.8 1314.3 254.8 1315.0 254.8C1315.7 254.8 1316.5 254.8 1317.0 254.8C1317.5 254.8 1317.8 254.8 1318.0 254.8"/>
<path stroke="#be4b2f" d="M918.3 506.0C918.4 505.7 918.5 504.7 918.7 504.0C918.8 503.4 918.9 502.7 919.0 502.1C919.1 501.4 919.2 500.7 919.3 500.1C919.4 499.4 919.6 498.8 919.7 498.1C919.8 497.5 919.9 496.8 920.0 496.1C920.1 495.5 920.2 494.8 920.3 494.2C920.4 493.5 920.5 492.8 920.6 492.2C920.7 491.5 920.8 490.9 920.9 490.2C921.0 489.5 921.1 488.9 921.2 488.2C921.3 487.6 921.4 486.9 921.5 486.2C921.6 485.6 921.7 484.9 921.8 484.3C921.9 483.6 922.0 482.9 922.1 482.3C922.2 481.6 922.3 481.0 922.3 480.3C922.4 479.6 922.5 479.0 922.6 478.3C922.7 477.6 922.8 477.0 922.8 476.3C922.9 475.7 923.0 475.0 923.1 474.3C923.2 473.7 923.3 473.0 923.3 472.3C923.4 471.7 923.5 471.0 923.6 470.4C923.6 469.7 923.7 469.0 923.8 468.4C923.9 467.7 923.9 467.0 924.0 466.4C924.1 465.7 924.2 465.1 924.2 464.4C924.3 463.7 924.4 463.1 924.5 462.4C924.5 461.7 924.6 461.1 924.7 460.4C924.8 459.7 924.8 459.1 924.9 458.4C925.0 457.8 925.1 457.1 925.2 456.4C925.2 455.8 925.3 455.1 925.4 454.4C925.5 453.8 925.6 453.1 925.7 452.5C925.7 451.8 925.8 451.1 925.9 450.5C926.0 449.8 926.1 449.2 926.2 448.5C926.3 447.8 926.4 447.2 926.5 446.5C926.6 445.9 926.7 445.2 926.8 444.5C926.9 443.9 927.0 443.2 927.1 442.6C927.2 441.9 927.3 441.2 927.4 440.6C927.5 439.9 927.6 439.3 927.7 438.6C927.8 437.9 927.9 437.3 928.0 436.6C928.1 436.0 928.2 435.3 928.4 434.6C928.5 434.0 928.6 433.3 928.7 432.7C928.8 432.0 928.9 431.4 929.0 430.7C929.2 430.0 929.3 429.4 929.4 428.7C929.5 428.1 929.6 427.4 929.8 426.8C929.9 426.1 930.0 425.5 930.1 424.8C930.2 424.1 930.4 423.5 930.5 422.8C930.6 422.2 930.7 421.5 930.9 420.9C931.0 420.2 931.1 419.5 931.2 418.9C931.3 418.2 931.5 417.6 931.6 416.9C931.7 416.3 931.8 415.6 932.0 415.0C932.1 414.3 932.2 413.6 932.4 413.0C932.5 412.3 932.6 411.7 932.7 411.0C932.9 410.4 933.0 409.7 933.1 409.1C933.2 408.4 933.4 407.8 933.5 407.1C933.6 406.4 933.8 405.8 933.9 405.1C934.0 404.5 934.2 403.8 934.3 403.2C934.4 402.5 934.6 401.9 934.7 401.2C934.8 400.6 935.0 399.9 935.1 399.3C935.3 398.6 935.4 398.0 935.5 397.3C935.7 396.6 935.8 396.0 936.0 395.3C936.1 394.7 936.3 394.0 936.4 393.4C936.6 392.7 936.7 392.1 936.9 391.4C937.0 390.8 937.2 390.1 937.3 389.5C937.5 388.8 937.6 388.2 937.8 387.5C937.9 386.9 938.1 386.2 938.2 385.6C938.4 384.9 938.5 384.3 938.7 383.6C938.8 383.0 939.0 382.3 939.1 381.7C939.3 381.0 939.4 380.4 939.6 379.7C939.7 379.1 939.9 378.4 940.0 377.8C940.2 377.1 940.4 376.5 940.5 375.8C940.7 375.2 940.8 374.5 940.9 373.9C941.1 373.2 941.2 372.6 941.4 371.9C941.5 371.3 941.7 370.6 941.8 370.0C942.0 369.3 942.1 368.7 942.3 368.0C942.5 367.4 942.6 366.7 942.8 366.1C942.9 365.4 943.1 364.8 943.2 364.1C943.4 363.5 943.5 362.9 943.7 362.2C943.9 361.6 944.0 360.9 944.2 360.3C944.4 359.6 944.5 359.0 944.7 358.3C944.9 357.7 945.0 357.0 945.2 356.4C945.4 355.7 945.5 355.1 945.7 354.5C945.9 353.8 946.1 353.2 946.2 352.5C946.4 351.9 946.6 351.2 946.8 350.6C947.0 350.0 947.2 349.3 947.3 348.7C947.5 348.0 947.7 347.4 947.9 346.8C948.1 346.1 948.3 345.5 948.5 344.8C948.7 344.2 948.9 343.6 949.1 342.9C949.3 342.3 949.5 341.6 949.7 341.0C949.9 340.4 950.1 339.7 950.3 339.1C950.5 338.5 950.7 337.8 950.9 337.2C951.1 336.6 951.3 335.9 951.5 335.3C951.7 334.7 951.9 334.0 952.2 333.4C952.4 332.8 952.6 332.1 952.8 331.5C953.0 330.9 953.3 330.2 953.5 329.6C953.7 329.0 953.9 328.4 954.1 327.7C954.4 327.1 954.6 326.5 954.8 325.9C955.1 325.2 955.3 324.6 955.5 324.0C955.7 323.3 956.0 322.7 956.2 322.1C956.4 321.5 956.7 320.8 956.9 320.2C957.1 319.6 957.4 319.0 957.6 318.3C957.8 317.7 958.1 317.1 958.3 316.5C958.5 315.8 958.8 315.2 959.0 314.6C959.2 314.0 959.5 313.3 959.7 312.7C959.9 312.1 960.2 311.5 960.4 310.8C960.6 310.2 960.9 309.6 961.1 309.0C961.3 308.3 961.6 307.7 961.8 307.1C962.1 306.5 962.3 305.9 962.6 305.2C962.8 304.6 963.1 304.0 963.3 303.4C963.6 302.8 963.8 302.1 964.1 301.5C964.3 300.9 964.6 300.3 964.9 299.7C965.1 299.1 965.4 298.5 965.7 297.9C966.0 297.2 966.2 296.6 966.5 296.0C966.8 295.4 967.1 294.8 967.4 294.2C967.7 293.7 968.0 293.1 968.4 292.5C968.7 291.9 969.0 291.3 969.3 290.7C969.7 290.1 970.0 289.6 970.4 289.0C970.7 288.4 971.1 287.9 971.4 287.3C971.8 286.8 972.2 286.2 972.6 285.7C973.0 285.1 973.3 284.6 973.8 284.0C974.2 283.5 974.6 283.0 975.0 282.5C975.4 282.0 975.8 281.5 976.3 281.0C976.7 280.4 977.2 280.0 977.6 279.5C978.1 279.0 978.6 278.5 979.0 278.0C979.5 277.6 980.0 277.1 980.5 276.7C981.0 276.2 981.5 275.8 982.0 275.4C982.5 274.9 983.1 274.5 983.6 274.1C984.1 273.7 984.7 273.3 985.2 272.9C985.7 272.6 986.3 272.2 986.9 271.8C987.4 271.5 988.0 271.1 988.6 270.8C989.1 270.4 989.7 270.1 990.3 269.8C990.9 269.5 991.5 269.2 992.1 268.9C992.7 268.6 993.3 268.3 993.9 268.0C994.5 267.7 995.1 267.5 995.7 267.2C996.4 267.0 997.0 266.7 997.6 266.5C998.2 266.3 998.9 266.1 999.5 265.9C1000.1 265.6 1000.8 265.4 1001.4 265.3C1002.0 265.1 1002.7 264.9 1003.3 264.7C1004.0 264.5 1004.6 264.4 1005.3 264.2C1005.9 264.0 1006.6 263.9 1007.2 263.7C1007.9 263.6 1008.5 263.4 1009.2 263.3C1009.8 263.2 1010.5 263.0 1011.1 262.9C1011.8 262.7 1012.4 262.6 1013.1 262.5C1013.7 262.4 1014.4 262.2 1015.0 262.1C1015.7 262.0 1016.4 261.9 1017.0 261.7C1017.7 261.6 1018.3 261.5 1019.0 261.4C1019.6 261.3 1020.3 261.2 1021.0 261.0C1021.6 260.9 1022.3 260.8 1022.9 260.7C1023.6 260.6 1024.2 260.5 1024.9 260.4C1025.6 260.3 1026.2 260.1 1026.9 260.0C1027.5 259.9 1028.2 259.8 1028.9 259.7C1029.5 259.6 1030.2 259.6 1030.8 259.5C1031.5 259.4 1032.2 259.3 1032.8 259.2C1033.5 259.1 1034.1 259.1 1034.8 259.0C1035.5 258.9 1036.1 258.8 1036.8 258.8C1037.5 258.7 1038.1 258.7 1038.8 258.6C1039.5 258.5 1040.1 258.5 1040.8 258.4C1041.5 258.4 1042.1 258.3 1042.8 258.3C1043.4 258.3 1044.1 258.2 1044.8 258.2C1045.4 258.1 1046.1 258.1 1046.8 258.1C1047.4 258.0 1048.1 258.0 1048.8 258.0C1049.4 257.9 1050.1 257.9 1050.8 257.9C1051.4 257.8 1052.1 257.8 1052.8 257.8C1053.4 257.7 1054.1 257.7 1054.8 257.7C1055.4 257.6 1056.1 257.6 1056.8 257.6C1057.4 257.6 1058.1 257.5 1058.8 257.5C1059.4 257.5 1060.1 257.4 1060.8 257.4C1061.4 257.4 1062.1 257.3 1062.8 257.3C1063.4 257.3 1064.1 257.3 1064.8 257.2C1065.4 257.2 1066.1 257.2 1066.8 257.1C1067.4 257.1 1068.1 257.1 1068.8 257.1C1069.4 257.0 1070.1 257.0 1070.8 257.0C1071.4 257.0 1072.1 256.9 1072.8 256.9C1073.4 256.9 1074.1 256.9 1074.8 256.9C1075.5 256.8 1076.1 256.8 1076.8 256.8C1077.5 256.8 1078.1 256.8 1078.8 256.7C1079.5 256.7 1080.1 256.7 1080.8 256.7C1081.5 256.7 1082.1 256.7 1082.8 256.6C1083.5 256.6 1084.1 256.6 1084.8 256.6C1085.5 256.6 1086.1 256.6 1086.8 256.6C1087.5 256.5 1088.1 256.5 1088.8 256.5C1089.5 256.5 1090.1 256.5 1090.8 256.5C1091.5 256.5 1092.1 256.4 1092.8 256.4C1093.5 256.4 1094.1 256.4 1094.8 256.4C1095.5 256.4 1096.1 256.4 1096.8 256.3C1097.5 256.3 1098.1 256.3 1098.8 256.3C1099.5 256.3 1100.1 256.3 1100.8 256.3C1101.5 256.3 1102.1 256.3 1102.8 256.2C1103.5 256.2 1104.1 256.2 1104.8 256.2C1105.5 256.2 1106.1 256.2 1106.8 256.2C1107.5 256.2 1108.1 256.2 1108.8 256.2C1109.5 256.1 1110.1 256.1 1110.8 256.1C1111.5 256.1 1112.1 256.1 1112.8 256.1C1113.5 256.1 1114.1 256.1 1114.8 256.1C1115.5 256.1 1116.1 256.1 1116.8 256.1C1117.5 256.1 1118.1 256.1 1118.8 256.0C1119.5 256.0 1120.2 256.0 1120.8 256.0C1121.5 256.0 1122.2 256.0 1122.8 256.0C1123.5 256.0 1124.2 256.0 1124.8 256.0C1125.5 256.0 1126.2 256.0 1126.8 256.0C1127.5 256.0 1128.2 256.0 1128.8 256.0C1129.5 256.0 1130.2 256.0 1130.8 256.0C1131.5 255.9 1132.2 255.9 1132.8 255.9C1133.5 255.9 1134.2 255.9 1134.8 255.9C1135.5 255.9 1136.2 255.9 1136.8 255.9C1137.5 255.9 1138.2 255.9 1138.8 255.9C1139.5 255.9 1140.2 255.9 1140.8 255.9C1141.5 255.9 1142.2 255.9 1142.8 255.9C1143.5 255.9 1144.2 255.8 1144.8 255.8C1145.5 255.8 1146.2 255.8 1146.8 255.8C1147.5 255.8 1148.2 255.8 1148.8 255.8C1149.5 255.8 1150.2 255.8 1150.8 255.8C1151.5 255.8 1152.2 255.8 1152.8 255.8C1153.5 255.8 1154.2 255.8 1154.8 255.8C1155.5 255.8 1156.2 255.7 1156.9 255.7C1157.5 255.7 1158.2 255.7 1158.9 255.7C1159.5 255.7 1160.2 255.7 1160.9 255.7C1161.5 255.7 1162.2 255.7 1162.9 255.7C1163.5 255.7 1164.2 255.7 1164.9 255.7C1165.5 255.7 1166.2 255.7 1166.9 255.7C1167.5 255.6 1168.2 255.6 1168.9 255.6C1169.5 255.6 1170.2 255.6 1170.9 255.6C1171.5 255.6 1172.2 255.6 1172.9 255.6C1173.5 255.6 1174.2 255.6 1174.9 255.6C1175.5 255.6 1176.2 255.6 1176.9 255.6C1177.5 255.6 1178.2 255.5 1178.9 255.5C1179.5 255.5 1180.2 255.5 1180.9 255.5C1181.5 255.5 1182.2 255.5 1182.9 255.5C1183.5 255.5 1184.2 255.5 1184.9 255.5C1185.5 255.5 1186.2 255.5 1186.9 255.5C1187.5 255.5 1188.2 255.5 1188.9 255.5C1189.5 255.5 1190.2 255.4 1190.9 255.4C1191.5 255.4 1192.2 255.4 1192.9 255.4C1193.6 255.4 1194.2 255.4 1194.9 255.4C1195.6 255.4 1196.2 255.4 1196.9 255.4C1197.6 255.4 1198.2 255.4 1198.9 255.4C1199.6 255.4 1200.2 255.4 1200.9 255.4C1201.6 255.4 1202.2 255.3 1202.9 255.3C1203.6 255.3 1204.2 255.3 1204.9 255.3C1205.6 255.3 1206.2 255.3 1206.9 255.3C1207.6 255.3 1208.2 255.3 1208.9 255.3C1209.6 255.3 1210.2 255.3 1210.9 255.3C1211.6 255.3 1212.2 255.3 1212.9 255.3C1213.6 255.3 1214.2 255.3 1214.9 255.3C1215.6 255.3 1216.2 255.3 1216.9 255.2C1217.6 255.2 1218.2 255.2 1218.9 255.2C1219.6 255.2 1220.2 255.2 1220.9 255.2C1221.6 255.2 1222.2 255.2 1222.9 255.2C1223.6 255.2 1224.2 255.2 1224.9 255.2C1225.6 255.2 1226.2 255.2 1226.9 255.2C1227.6 255.2 1228.2 255.2 1228.9 255.2C1229.6 255.2 1230.3 255.2 1230.9 255.2C1231.6 255.2 1232.3 255.1 1232.9 255.1C1233.6 255.1 1234.3 255.1 1234.9 255.1C1235.6 255.1 1236.3 255.1 1236.9 255.1C1237.6 255.1 1238.3 255.1 1238.9 255.1C1239.6 255.1 1240.3 255.1 1240.9 255.1C1241.6 255.1 1242.3 255.1 1242.9 255.1C1243.6 255.1 1244.3 255.1 1244.9 255.1C1245.6 255.1 1246.3 255.1 1246.9 255.1C1247.6 255.1 1248.3 255.1 1248.9 255.1C1249.6 255.0 1250.3 255.0 1250.9 255.0C1251.6 255.0 1252.3 255.0 1252.9 255.0C1253.6 255.0 1254.3 255.0 1254.9 255.0C1255.6 255.0 1256.3 255.0 1256.9 255.0C1257.6 255.0 1258.3 255.0 1258.9 255.0C1259.6 255.0 1260.3 255.0 1260.9 255.0C1261.6 255.0 1262.3 255.0 1262.9 255.0C1263.6 255.0 1264.3 255.0 1265.0 255.0C1265.6 255.0 1266.3 255.0 1267.0 255.0C1267.6 255.0 1268.3 255.0 1269.0 255.0C1269.6 255.0 1270.3 255.0 1271.0 255.0C1271.6 255.0 1272.3 254.9 1273.0 254.9C1273.6 254.9 1274.3 254.9 1275.0 254.9C1275.6 254.9 1276.3 254.9 1277.0 254.9C1277.6 254.9 1278.3 254.9 1279.0 254.9C1279.6 254.9 1280.3 254.9 1281.0 254.9C1281.6 254.9 1282.3 254.9 1283.0 254.9C1283.6 254.9 1284.3 254.9 1285.0 254.9C1285.6 254.9 1286.3 254.9 1287.0 254.9C1287.6 254.9 1288.3 254.9 1289.0 254.9C1289.6 254.9 1290.3 254.9 1291.0 254.9C1291.6 254.9 1292.3 254.9 1293.0 254.9C1293.6 254.9 1294.3 254.9 1295.0 254.9C1295.6 254.9 1296.3 254.9 1297.0 254.9C1297.6 254.9 1298.3 254.9 1299.0 254.9C1299.6 254.8 1300.3 254.8 1301.0 254.8C1301.7 254.8 1302.3 254.8 1303.0 254.8C1303.7 254.8 1304.3 254.8 1305.0 254.8C1305.7 254.8 1306.3 254.8 1307.0 254.8C1307.7 254.8 1308.3 254.8 1309.0 254.8C1309.7 254.8 1310.3 254.8 1311.0 254.8C1311.7 254.8 1312.3 254.8 1313.0 254.8C1313.7 254.8 1314.3 254.8 1315.0 254.8C1315.7 254.8 1316.5 254.8 1317.0 254.8C1317.5 254.8 1317.8 254.8 1318.0 254.8"/>
<path stroke="#d4a03b" d="M918.2 58.0C918.2 58.3 918.3 59.3 918.4 60.0C918.4 60.7 918.5 61.3 918.6 62.0C918.6 62.7 918.7 63.3 918.8 64.0C918.8 64.6 918.9 65.3 918.9 66.0C919.0 66.6 919.1 67.3 919.1 68.0C919.2 68.6 919.3 69.3 919.3 70.0C919.4 70.6 919.5 71.3 919.5 72.0C919.6 72.6 919.7 73.3 919.7 73.9C919.8 74.6 919.8 75.3 919.9 75.9C920.0 76.6 920.0 77.3 920.1 77.9C920.2 78.6 920.3 79.3 920.3 79.9C920.4 80.6 920.5 81.2 920.5 81.9C920.6 82.6 920.7 83.2 920.7 83.9C920.8 84.6 920.9 85.2 920.9 85.9C921.0 86.6 921.1 87.2 921.1 87.9C921.2 88.5 921.3 89.2 921.4 89.9C921.4 90.5 921.5 91.2 921.6 91.9C921.6 92.5 921.7 93.2 921.8 93.9C921.8 94.5 921.9 95.2 922.0 95.8C922.1 96.5 922.1 97.2 922.2 97.8C922.3 98.5 922.3 99.2 922.4 99.8C922.5 100.5 922.6 101.2 922.6 101.8C922.7 102.5 922.8 103.1 922.8 103.8C922.9 104.5 923.0 105.1 923.1 105.8C923.1 106.5 923.2 107.1 923.3 107.8C923.4 108.4 923.4 109.1 923.5 109.8C923.6 110.4 923.7 111.1 923.7 111.8C923.8 112.4 923.9 113.1 924.0 113.8C924.0 114.4 924.1 115.1 924.2 115.7C924.3 116.4 924.3 117.1 924.4 117.7C924.5 118.4 924.6 119.1 924.7 119.7C924.7 120.4 924.8 121.0 924.9 121.7C925.0 122.4 925.1 123.0 925.2 123.7C925.2 124.4 925.3 125.0 925.4 125.7C925.5 126.3 925.6 127.0 925.7 127.7C925.8 128.3 925.9 129.0 926.0 129.6C926.1 130.3 926.2 131.0 926.3 131.6C926.3 132.3 926.4 132.9 926.5 133.6C926.6 134.3 926.7 134.9 926.9 135.6C927.0 136.2 927.1 136.9 927.2 137.6C927.3 138.2 927.4 138.9 927.5 139.5C927.6 140.2 927.7 140.8 927.8 141.5C927.9 142.2 928.0 142.8 928.1 143.5C928.3 144.1 928.4 144.8 928.5 145.5C928.6 146.1 928.7 146.8 928.8 147.4C928.9 148.1 929.0 148.7 929.2 149.4C929.3 150.1 929.4 150.7 929.5 151.4C929.6 152.0 929.7 152.7 929.8 153.3C929.9 154.0 930.1 154.7 930.2 155.3C930.3 156.0 930.4 156.6 930.5 157.3C930.6 157.9 930.8 158.6 930.9 159.3C931.0 159.9 931.1 160.6 931.2 161.2C931.3 161.9 931.4 162.5 931.6 163.2C931.7 163.9 931.8 164.5 931.9 165.2C932.0 165.8 932.2 166.5 932.3 167.1C932.4 167.8 932.5 168.5 932.6 169.1C932.8 169.8 932.9 170.4 933.0 171.1C933.1 171.7 933.2 172.4 933.4 173.0C933.5 173.7 933.6 174.4 933.7 175.0C933.9 175.7 934.0 176.3 934.1 177.0C934.3 177.6 934.4 178.3 934.5 178.9C934.7 179.6 934.8 180.3 934.9 180.9C935.1 181.6 935.2 182.2 935.3 182.9C935.5 183.5 935.6 184.2 935.8 184.8C935.9 185.5 936.1 186.1 936.2 186.8C936.4 187.4 936.5 188.1 936.7 188.7C936.8 189.4 937.0 190.0 937.1 190.7C937.3 191.3 937.4 192.0 937.6 192.6C937.8 193.3 937.9 193.9 938.1 194.5C938.3 195.2 938.4 195.8 938.6 196.5C938.8 197.1 938.9 197.8 939.1 198.4C939.3 199.1 939.5 199.7 939.6 200.4C939.8 201.0 940.0 201.6 940.1 202.3C940.3 202.9 940.5 203.6 940.7 204.2C940.8 204.9 941.0 205.5 941.2 206.2C941.3 206.8 941.5 207.4 941.7 208.1C941.9 208.7 942.0 209.4 942.2 210.0C942.4 210.7 942.6 211.3 942.7 212.0C942.9 212.6 943.1 213.2 943.3 213.9C943.5 214.5 943.6 215.2 943.8 215.8C944.0 216.4 944.2 217.1 944.4 217.7C944.6 218.4 944.8 219.0 945.0 219.6C945.2 220.3 945.4 220.9 945.6 221.5C945.8 222.2 946.0 222.8 946.2 223.5C946.4 224.1 946.6 224.7 946.8 225.4C947.0 226.0 947.2 226.6 947.5 227.2C947.7 227.9 947.9 228.5 948.1 229.1C948.4 229.7 948.6 230.4 948.8 231.0C949.1 231.6 949.3 232.2 949.6 232.9C949.8 233.5 950.1 234.1 950.3 234.7C950.6 235.3 950.8 235.9 951.1 236.6C951.4 237.2 951.6 237.8 951.9 238.4C952.2 239.0 952.5 239.6 952.7 240.2C953.0 240.8 953.3 241.4 953.6 242.0C953.9 242.6 954.2 243.2 954.5 243.8C954.8 244.4 955.1 245.0 955.5 245.6C955.8 246.2 956.1 246.8 956.4 247.3C956.8 247.9 957.1 248.5 957.5 249.1C957.8 249.6 958.2 250.2 958.6 250.7C958.9 251.3 959.3 251.9 959.7 252.4C960.1 252.9 960.5 253.5 960.9 254.0C961.3 254.5 961.7 255.0 962.2 255.6C962.6 256.1 963.0 256.6 963.5 257.0C964.0 257.5 964.4 258.0 964.9 258.5C965.4 258.9 965.9 259.4 966.4 259.8C966.9 260.2 967.4 260.7 967.9 261.1C968.5 261.5 969.0 261.9 969.5 262.2C970.1 262.6 970.7 263.0 971.2 263.3C971.8 263.7 972.4 264.0 973.0 264.3C973.6 264.6 974.1 264.9 974.8 265.2C975.4 265.5 976.0 265.7 976.6 266.0C977.2 266.2 977.8 266.4 978.5 266.6C979.1 266.8 979.7 267.0 980.4 267.2C981.0 267.4 981.7 267.5 982.3 267.7C983.0 267.8 983.6 268.0 984.3 268.1C984.9 268.2 985.6 268.3 986.3 268.4C986.9 268.4 987.6 268.5 988.3 268.6C988.9 268.6 989.6 268.7 990.3 268.7C990.9 268.8 991.6 268.8 992.3 268.8C992.9 268.8 993.6 268.9 994.3 268.9C994.9 268.9 995.6 268.9 996.3 268.9C996.9 268.8 997.6 268.8 998.3 268.8C999.0 268.8 999.6 268.8 1000.3 268.7C1001.0 268.7 1001.6 268.7 1002.3 268.6C1003.0 268.6 1003.6 268.6 1004.3 268.5C1005.0 268.5 1005.6 268.4 1006.3 268.4C1007.0 268.3 1007.6 268.2 1008.3 268.2C1008.9 268.1 1009.6 268.0 1010.3 268.0C1010.9 267.9 1011.6 267.8 1012.3 267.8C1012.9 267.7 1013.6 267.6 1014.2 267.5C1014.9 267.4 1015.6 267.3 1016.2 267.3C1016.9 267.2 1017.5 267.1 1018.2 267.0C1018.9 266.9 1019.5 266.8 1020.2 266.7C1020.8 266.6 1021.5 266.5 1022.2 266.4C1022.8 266.3 1023.5 266.2 1024.1 266.1C1024.8 266.0 1025.5 265.9 1026.1 265.8C1026.8 265.7 1027.4 265.6 1028.1 265.5C1028.8 265.4 1029.4 265.3 1030.1 265.2C1030.7 265.1 1031.4 265.0 1032.1 264.9C1032.7 264.8 1033.4 264.7 1034.0 264.6C1034.7 264.5 1035.4 264.4 1036.0 264.3C1036.7 264.3 1037.3 264.2 1038.0 264.1C1038.7 264.0 1039.3 263.9 1040.0 263.9C1040.7 263.8 1041.3 263.7 1042.0 263.6C1042.6 263.6 1043.3 263.5 1044.0 263.4C1044.6 263.4 1045.3 263.3 1046.0 263.2C1046.6 263.2 1047.3 263.1 1048.0 263.1C1048.6 263.0 1049.3 263.0 1050.0 262.9C1050.6 262.8 1051.3 262.8 1052.0 262.7C1052.6 262.7 1053.3 262.6 1053.9 262.6C1054.6 262.5 1055.3 262.5 1055.9 262.5C1056.6 262.4 1057.3 262.4 1057.9 262.3C1058.6 262.3 1059.3 262.2 1059.9 262.2C1060.6 262.1 1061.3 262.1 1061.9 262.1C1062.6 262.0 1063.3 262.0 1063.9 261.9C1064.6 261.9 1065.3 261.8 1065.9 261.8C1066.6 261.7 1067.3 261.7 1067.9 261.6C1068.6 261.6 1069.3 261.5 1069.9 261.5C1070.6 261.5 1071.3 261.4 1071.9 261.4C1072.6 261.3 1073.3 261.3 1073.9 261.2C1074.6 261.2 1075.2 261.1 1075.9 261.1C1076.6 261.0 1077.2 261.0 1077.9 260.9C1078.6 260.9 1079.2 260.8 1079.9 260.8C1080.6 260.7 1081.2 260.7 1081.9 260.6C1082.6 260.6 1083.2 260.5 1083.9 260.5C1084.6 260.4 1085.2 260.4 1085.9 260.3C1086.6 260.3 1087.2 260.2 1087.9 260.2C1088.6 260.1 1089.2 260.1 1089.9 260.0C1090.6 260.0 1091.2 259.9 1091.9 259.9C1092.5 259.8 1093.2 259.8 1093.9 259.7C1094.5 259.7 1095.2 259.6 1095.9 259.6C1096.5 259.5 1097.2 259.5 1097.9 259.5C1098.5 259.4 1099.2 259.4 1099.9 259.3C1100.5 259.3 1101.2 259.3 1101.9 259.2C1102.5 259.2 1103.2 259.2 1103.9 259.1C1104.5 259.1 1105.2 259.1 1105.9 259.0C1106.5 259.0 1107.2 259.0 1107.9 258.9C1108.5 258.9 1109.2 258.9 1109.9 258.9C1110.5 258.8 1111.2 258.8 1111.9 258.8C1112.5 258.8 1113.2 258.7 1113.9 258.7C1114.5 258.7 1115.2 258.7 1115.9 258.6C1116.5 258.6 1117.2 258.6 1117.9 258.6C1118.5 258.6 1119.2 258.5 1119.9 258.5C1120.5 258.5 1121.2 258.5 1121.9 258.5C1122.5 258.4 1123.2 258.4 1123.9 258.4C1124.5 258.4 1125.2 258.4 1125.9 258.3C1126.5 258.3 1127.2 258.3 1127.9 258.3C1128.5 258.3 1129.2 258.3 1129.9 258.2C1130.5 258.2 1131.2 258.2 1131.9 258.2C1132.5 258.2 1133.2 258.1 1133.9 258.1C1134.5 258.1 1135.2 258.1 1135.9 258.1C1136.5 258.1 1137.2 258.0 1137.9 258.0C1138.5 258.0 1139.2 258.0 1139.9 258.0C1140.5 257.9 1141.2 257.9 1141.9 257.9C1142.5 257.9 1143.2 257.9 1143.9 257.9C1144.5 257.8 1145.2 257.8 1145.9 257.8C1146.6 257.8 1147.2 257.8 1147.9 257.8C1148.6 257.7 1149.2 257.7 1149.9 257.7C1150.6 257.7 1151.2 257.7 1151.9 257.6C1152.6 257.6 1153.2 257.6 1153.9 257.6C1154.6 257.6 1155.2 257.6 1155.9 257.5C1156.6 257.5 1157.2 257.5 1157.9 257.5C1158.6 257.5 1159.2 257.5 1159.9 257.4C1160.6 257.4 1161.2 257.4 1161.9 257.4C1162.6 257.4 1163.2 257.3 1163.9 257.3C1164.6 257.3 1165.2 257.3 1165.9 257.3C1166.6 257.3 1167.2 257.2 1167.9 257.2C1168.6 257.2 1169.2 257.2 1169.9 257.2C1170.6 257.2 1171.2 257.1 1171.9 257.1C1172.6 257.1 1173.2 257.1 1173.9 257.1C1174.6 257.1 1175.2 257.0 1175.9 257.0C1176.6 257.0 1177.2 257.0 1177.9 257.0C1178.6 257.0 1179.2 256.9 1179.9 256.9C1180.6 256.9 1181.2 256.9 1181.9 256.9C1182.6 256.9 1183.2 256.8 1183.9 256.8C1184.6 256.8 1185.2 256.8 1185.9 256.8C1186.6 256.8 1187.2 256.8 1187.9 256.7C1188.6 256.7 1189.2 256.7 1189.9 256.7C1190.6 256.7 1191.2 256.7 1191.9 256.7C1192.6 256.6 1193.2 256.6 1193.9 256.6C1194.6 256.6 1195.2 256.6 1195.9 256.6C1196.6 256.5 1197.2 256.5 1197.9 256.5C1198.6 256.5 1199.2 256.5 1199.9 256.5C1200.6 256.5 1201.2 256.5 1201.9 256.4C1202.6 256.4 1203.2 256.4 1203.9 256.4C1204.6 256.4 1205.2 256.4 1205.9 256.4C1206.6 256.3 1207.3 256.3 1207.9 256.3C1208.6 256.3 1209.3 256.3 1209.9 256.3C1210.6 256.3 1211.3 256.3 1211.9 256.2C1212.6 256.2 1213.3 256.2 1213.9 256.2C1214.6 256.2 1215.3 256.2 1215.9 256.2C1216.6 256.2 1217.3 256.1 1217.9 256.1C1218.6 256.1 1219.3 256.1 1219.9 256.1C1220.6 256.1 1221.3 256.1 1221.9 256.1C1222.6 256.1 1223.3 256.0 1223.9 256.0C1224.6 256.0 1225.3 256.0 1225.9 256.0C1226.6 256.0 1227.3 256.0 1227.9 256.0C1228.6 255.9 1229.3 255.9 1229.9 255.9C1230.6 255.9 1231.3 255.9 1231.9 255.9C1232.6 255.9 1233.3 255.9 1233.9 255.9C1234.6 255.8 1235.3 255.8 1235.9 255.8C1236.6 255.8 1237.3 255.8 1237.9 255.8C1238.6 255.8 1239.3 255.8 1239.9 255.8C1240.6 255.8 1241.3 255.7 1241.9 255.7C1242.6 255.7 1243.3 255.7 1243.9 255.7C1244.6 255.7 1245.3 255.7 1245.9 255.7C1246.6 255.7 1247.3 255.7 1247.9 255.7C1248.6 255.6 1249.3 255.6 1249.9 255.6C1250.6 255.6 1251.3 255.6 1251.9 255.6C1252.6 255.6 1253.3 255.6 1253.9 255.6C1254.6 255.6 1255.3 255.6 1256.0 255.5C1256.6 255.5 1257.3 255.5 1258.0 255.5C1258.6 255.5 1259.3 255.5 1260.0 255.5C1260.6 255.5 1261.3 255.5 1262.0 255.5C1262.6 255.5 1263.3 255.5 1264.0 255.5C1264.6 255.4 1265.3 255.4 1266.0 255.4C1266.6 255.4 1267.3 255.4 1268.0 255.4C1268.6 255.4 1269.3 255.4 1270.0 255.4C1270.6 255.4 1271.3 255.4 1272.0 255.4C1272.6 255.4 1273.3 255.4 1274.0 255.3C1274.6 255.3 1275.3 255.3 1276.0 255.3C1276.6 255.3 1277.3 255.3 1278.0 255.3C1278.6 255.3 1279.3 255.3 1280.0 255.3C1280.6 255.3 1281.3 255.3 1282.0 255.3C1282.6 255.3 1283.3 255.3 1284.0 255.3C1284.6 255.2 1285.3 255.2 1286.0 255.2C1286.6 255.2 1287.3 255.2 1288.0 255.2C1288.6 255.2 1289.3 255.2 1290.0 255.2C1290.6 255.2 1291.3 255.2 1292.0 255.2C1292.6 255.2 1293.3 255.2 1294.0 255.2C1294.6 255.2 1295.3 255.2 1296.0 255.1C1296.6 255.1 1297.3 255.1 1298.0 255.1C1298.7 255.1 1299.3 255.1 1300.0 255.1C1300.7 255.1 1301.3 255.1 1302.0 255.1C1302.7 255.1 1303.3 255.1 1304.0 255.1C1304.7 255.1 1305.3 255.1 1306.0 255.1C1306.7 255.1 1307.3 255.1 1308.0 255.1C1308.7 255.1 1309.3 255.0 1310.0 255.0C1310.7 255.0 1311.3 255.0 1312.0 255.0C1312.7 255.0 1313.3 255.0 1314.0 255.0C1314.7 255.0 1315.3 255.0 1316.0 255.0C1316.7 255.0 1317.7 255.0 1318.0 255.0"/>
<path stroke="#692c86" d="M918.3 251.0C918.4 250.7 918.6 249.7 918.7 249.0C918.8 248.4 919.0 247.7 919.1 247.1C919.3 246.4 919.4 245.8 919.6 245.1C919.7 244.5 919.9 243.9 920.0 243.2C920.2 242.6 920.3 241.9 920.5 241.3C920.7 240.6 920.8 240.0 921.0 239.3C921.1 238.7 921.3 238.1 921.5 237.4C921.7 236.8 921.8 236.1 922.0 235.5C922.2 234.8 922.4 234.2 922.6 233.5C922.7 232.9 922.9 232.2 923.1 231.6C923.3 230.9 923.5 230.3 923.7 229.6C923.9 229.0 924.1 228.3 924.4 227.7C924.6 227.1 924.8 226.4 925.0 225.8C925.3 225.1 925.5 224.5 925.8 223.9C926.1 223.2 926.3 222.6 926.6 222.0C926.9 221.4 927.3 220.8 927.6 220.2C927.9 219.6 928.3 219.0 928.6 218.5C929.0 217.9 929.4 217.4 929.8 216.9C930.2 216.3 930.6 215.8 931.1 215.4C931.5 214.9 932.0 214.5 932.5 214.1C933.0 213.7 933.5 213.3 934.1 213.0C934.6 212.6 935.2 212.3 935.7 212.1C936.3 211.8 936.9 211.6 937.5 211.4C938.1 211.2 938.7 211.0 939.4 210.9C940.0 210.8 940.6 210.7 941.3 210.7C941.9 210.7 942.6 210.7 943.2 210.7C943.9 210.7 944.5 210.8 945.2 210.9C945.8 211.0 946.5 211.2 947.1 211.3C947.8 211.5 948.4 211.7 949.1 211.9C949.7 212.1 950.3 212.4 951.0 212.6C951.6 212.9 952.2 213.2 952.8 213.5C953.4 213.8 954.0 214.1 954.6 214.5C955.2 214.8 955.8 215.1 956.4 215.5C956.9 215.9 957.5 216.2 958.1 216.6C958.6 217.0 959.2 217.4 959.7 217.8C960.3 218.2 960.8 218.6 961.4 219.0C961.9 219.4 962.4 219.8 963.0 220.2C963.5 220.7 964.0 221.1 964.5 221.5C965.1 221.9 965.6 222.3 966.1 222.7C966.6 223.2 967.1 223.6 967.7 224.0C968.2 224.4 968.7 224.8 969.2 225.2C969.7 225.7 970.2 226.1 970.8 226.5C971.3 226.9 971.8 227.3 972.3 227.7C972.9 228.1 973.4 228.5 973.9 228.9C974.4 229.3 975.0 229.7 975.5 230.1C976.0 230.5 976.6 230.9 977.1 231.3C977.6 231.7 978.2 232.1 978.7 232.5C979.2 232.9 979.8 233.3 980.3 233.7C980.9 234.1 981.4 234.5 982.0 234.8C982.5 235.2 983.1 235.6 983.6 236.0C984.1 236.4 984.7 236.8 985.3 237.1C985.8 237.5 986.4 237.9 986.9 238.3C987.5 238.6 988.0 239.0 988.6 239.4C989.1 239.7 989.7 240.1 990.3 240.4C990.8 240.8 991.4 241.1 992.0 241.5C992.6 241.8 993.1 242.2 993.7 242.5C994.3 242.9 994.9 243.2 995.4 243.5C996.0 243.8 996.6 244.2 997.2 244.5C997.8 244.8 998.4 245.1 999.0 245.4C999.6 245.7 1000.2 246.0 1000.8 246.2C1001.4 246.5 1002.0 246.8 1002.6 247.1C1003.2 247.3 1003.8 247.6 1004.4 247.8C1005.0 248.1 1005.7 248.3 1006.3 248.6C1006.9 248.8 1007.5 249.0 1008.2 249.3C1008.8 249.5 1009.4 249.7 1010.0 249.9C1010.7 250.2 1011.3 250.4 1011.9 250.6C1012.6 250.8 1013.2 251.0 1013.8 251.2C1014.5 251.4 1015.1 251.6 1015.7 251.8C1016.4 252.0 1017.0 252.2 1017.7 252.4C1018.3 252.6 1018.9 252.8 1019.6 253.0C1020.2 253.2 1020.8 253.4 1021.5 253.6C1022.1 253.8 1022.8 254.0 1023.4 254.2C1024.1 254.3 1024.7 254.5 1025.3 254.7C1026.0 254.9 1026.6 255.1 1027.3 255.2C1027.9 255.4 1028.6 255.6 1029.2 255.8C1029.8 255.9 1030.5 256.1 1031.1 256.2C1031.8 256.4 1032.4 256.6 1033.1 256.7C1033.7 256.8 1034.4 257.0 1035.0 257.1C1035.7 257.3 1036.3 257.4 1037.0 257.5C1037.7 257.6 1038.3 257.7 1039.0 257.9C1039.6 258.0 1040.3 258.1 1040.9 258.2C1041.6 258.3 1042.3 258.4 1042.9 258.4C1043.6 258.5 1044.2 258.6 1044.9 258.7C1045.6 258.8 1046.2 258.8 1046.9 258.9C1047.6 259.0 1048.2 259.0 1048.9 259.1C1049.6 259.2 1050.2 259.2 1050.9 259.3C1051.6 259.3 1052.2 259.4 1052.9 259.4C1053.5 259.5 1054.2 259.5 1054.9 259.6C1055.5 259.6 1056.2 259.7 1056.9 259.7C1057.5 259.7 1058.2 259.8 1058.9 259.8C1059.5 259.9 1060.2 259.9 1060.9 259.9C1061.5 260.0 1062.2 260.0 1062.9 260.0C1063.5 260.0 1064.2 260.1 1064.9 260.1C1065.5 260.1 1066.2 260.1 1066.9 260.2C1067.5 260.2 1068.2 260.2 1068.9 260.2C1069.5 260.3 1070.2 260.3 1070.9 260.3C1071.5 260.3 1072.2 260.3 1072.9 260.3C1073.5 260.4 1074.2 260.4 1074.9 260.4C1075.6 260.4 1076.2 260.4 1076.9 260.4C1077.6 260.4 1078.2 260.4 1078.9 260.5C1079.6 260.5 1080.2 260.5 1080.9 260.5C1081.6 260.5 1082.2 260.5 1082.9 260.5C1083.6 260.5 1084.2 260.5 1084.9 260.5C1085.6 260.5 1086.2 260.5 1086.9 260.5C1087.6 260.5 1088.2 260.5 1088.9 260.5C1089.6 260.5 1090.2 260.5 1090.9 260.4C1091.6 260.4 1092.2 260.4 1092.9 260.4C1093.6 260.4 1094.2 260.4 1094.9 260.4C1095.6 260.4 1096.2 260.4 1096.9 260.3C1097.6 260.3 1098.2 260.3 1098.9 260.3C1099.6 260.3 1100.2 260.3 1100.9 260.2C1101.6 260.2 1102.2 260.2 1102.9 260.2C1103.6 260.2 1104.2 260.1 1104.9 260.1C1105.6 260.1 1106.2 260.1 1106.9 260.1C1107.6 260.0 1108.2 260.0 1108.9 260.0C1109.6 260.0 1110.2 259.9 1110.9 259.9C1111.6 259.9 1112.2 259.9 1112.9 259.9C1113.6 259.8 1114.2 259.8 1114.9 259.8C1115.6 259.8 1116.2 259.7 1116.9 259.7C1117.6 259.7 1118.2 259.7 1118.9 259.7C1119.6 259.6 1120.2 259.6 1120.9 259.6C1121.6 259.6 1122.2 259.5 1122.9 259.5C1123.6 259.5 1124.2 259.5 1124.9 259.4C1125.6 259.4 1126.2 259.4 1126.9 259.4C1127.6 259.4 1128.2 259.3 1128.9 259.3C1129.6 259.3 1130.2 259.3 1130.9 259.2C1131.6 259.2 1132.2 259.2 1132.9 259.2C1133.6 259.1 1134.2 259.1 1134.9 259.1C1135.6 259.1 1136.2 259.1 1136.9 259.0C1137.6 259.0 1138.2 259.0 1138.9 259.0C1139.6 258.9 1140.2 258.9 1140.9 258.9C1141.6 258.9 1142.2 258.9 1142.9 258.8C1143.6 258.8 1144.2 258.8 1144.9 258.8C1145.6 258.7 1146.2 258.7 1146.9 258.7C1147.6 258.7 1148.2 258.7 1148.9 258.6C1149.6 258.6 1150.2 258.6 1150.9 258.6C1151.6 258.6 1152.2 258.5 1152.9 258.5C1153.6 258.5 1154.2 258.5 1154.9 258.4C1155.6 258.4 1156.2 258.4 1156.9 258.4C1157.6 258.4 1158.2 258.3 1158.9 258.3C1159.6 258.3 1160.2 258.3 1160.9 258.3C1161.6 258.2 1162.2 258.2 1162.9 258.2C1163.6 258.2 1164.2 258.2 1164.9 258.1C1165.6 258.1 1166.2 258.1 1166.9 258.1C1167.6 258.1 1168.2 258.0 1168.9 258.0C1169.6 258.0 1170.2 258.0 1170.9 258.0C1171.6 257.9 1172.3 257.9 1172.9 257.9C1173.6 257.9 1174.3 257.9 1174.9 257.8C1175.6 257.8 1176.3 257.8 1176.9 257.8C1177.6 257.8 1178.3 257.7 1178.9 257.7C1179.6 257.7 1180.3 257.7 1180.9 257.7C1181.6 257.6 1182.3 257.6 1182.9 257.6C1183.6 257.6 1184.3 257.6 1184.9 257.5C1185.6 257.5 1186.3 257.5 1186.9 257.5C1187.6 257.5 1188.3 257.5 1188.9 257.4C1189.6 257.4 1190.3 257.4 1190.9 257.4C1191.6 257.4 1192.3 257.3 1192.9 257.3C1193.6 257.3 1194.3 257.3 1194.9 257.3C1195.6 257.2 1196.3 257.2 1196.9 257.2C1197.6 257.2 1198.3 257.2 1198.9 257.2C1199.6 257.1 1200.3 257.1 1200.9 257.1C1201.6 257.1 1202.3 257.1 1202.9 257.1C1203.6 257.0 1204.3 257.0 1204.9 257.0C1205.6 257.0 1206.3 257.0 1206.9 257.0C1207.6 256.9 1208.3 256.9 1208.9 256.9C1209.6 256.9 1210.3 256.9 1210.9 256.9C1211.6 256.8 1212.3 256.8 1212.9 256.8C1213.6 256.8 1214.3 256.8 1214.9 256.8C1215.6 256.7 1216.3 256.7 1216.9 256.7C1217.6 256.7 1218.3 256.7 1218.9 256.7C1219.6 256.6 1220.3 256.6 1220.9 256.6C1221.6 256.6 1222.3 256.6 1222.9 256.6C1223.6 256.5 1224.3 256.5 1224.9 256.5C1225.6 256.5 1226.3 256.5 1226.9 256.5C1227.6 256.5 1228.3 256.4 1228.9 256.4C1229.6 256.4 1230.3 256.4 1230.9 256.4C1231.6 256.4 1232.3 256.3 1232.9 256.3C1233.6 256.3 1234.3 256.3 1234.9 256.3C1235.6 256.3 1236.3 256.3 1236.9 256.2C1237.6 256.2 1238.3 256.2 1238.9 256.2C1239.6 256.2 1240.3 256.2 1240.9 256.2C1241.6 256.1 1242.3 256.1 1242.9 256.1C1243.6 256.1 1244.3 256.1 1245.0 256.1C1245.6 256.1 1246.3 256.0 1247.0 256.0C1247.6 256.0 1248.3 256.0 1249.0 256.0C1249.6 256.0 1250.3 256.0 1251.0 256.0C1251.6 255.9 1252.3 255.9 1253.0 255.9C1253.6 255.9 1254.3 255.9 1255.0 255.9C1255.6 255.9 1256.3 255.9 1257.0 255.9C1257.6 255.8 1258.3 255.8 1259.0 255.8C1259.6 255.8 1260.3 255.8 1261.0 255.8C1261.6 255.8 1262.3 255.8 1263.0 255.8C1263.6 255.7 1264.3 255.7 1265.0 255.7C1265.6 255.7 1266.3 255.7 1267.0 255.7C1267.6 255.7 1268.3 255.7 1269.0 255.7C1269.6 255.7 1270.3 255.6 1271.0 255.6C1271.6 255.6 1272.3 255.6 1273.0 255.6C1273.6 255.6 1274.3 255.6 1275.0 255.6C1275.6 255.6 1276.3 255.6 1277.0 255.5C1277.6 255.5 1278.3 255.5 1279.0 255.5C1279.6 255.5 1280.3 255.5 1281.0 255.5C1281.6 255.5 1282.3 255.5 1283.0 255.5C1283.6 255.5 1284.3 255.4 1285.0 255.4C1285.6 255.4 1286.3 255.4 1287.0 255.4C1287.6 255.4 1288.3 255.4 1289.0 255.4C1289.6 255.4 1290.3 255.4 1291.0 255.4C1291.6 255.4 1292.3 255.3 1293.0 255.3C1293.6 255.3 1294.3 255.3 1295.0 255.3C1295.6 255.3 1296.3 255.3 1297.0 255.3C1297.7 255.3 1298.3 255.3 1299.0 255.3C1299.7 255.3 1300.3 255.3 1301.0 255.2C1301.7 255.2 1302.3 255.2 1303.0 255.2C1303.7 255.2 1304.3 255.2 1305.0 255.2C1305.7 255.2 1306.3 255.2 1307.0 255.2C1307.7 255.2 1308.3 255.2 1309.0 255.2C1309.7 255.2 1310.3 255.2 1311.0 255.2C1311.7 255.1 1312.3 255.1 1313.0 255.1C1313.7 255.1 1314.3 255.1 1315.0 255.1C1315.7 255.1 1316.5 255.1 1317.0 255.1C1317.5 255.1 1317.8 255.1 1318.0 255.1"/>
</g>
<g stroke="#231f20" stroke-width="3" fill="none">
<rect x="217.50" y="22.50" width="473.80" height="514.00"/>
<g stroke-linecap="round">
<path d="M219.00 95.93h12.30"/>
<path d="M219.00 169.36h12.30"/>
<path d="M219.00 242.79h12.30"/>
<path d="M219.00 316.21h12.30"/>
<path d="M219.00 389.64h12.30"/>
<path d="M219.00 463.07h12.30"/>
<path d="M296.47 535.00v-12.70"/>
<path d="M375.43 535.00v-12.70"/>
<path d="M454.40 535.00v-12.70"/>
<path d="M533.37 535.00v-12.70"/>
<path d="M612.33 535.00v-12.70"/>
</g></g>
<g stroke="#231f20" stroke-width="3.9" fill="none">
<rect x="918.20" y="20.90" width="478.80" height="519.90"/>
<g stroke-linecap="round">
<path d="M920.15 95.17h11.45"/>
<path d="M920.15 169.44h11.45"/>
<path d="M920.15 243.71h11.45"/>
<path d="M920.15 317.99h11.45"/>
<path d="M920.15 392.26h11.45"/>
<path d="M920.15 466.53h11.45"/>
<path d="M998.00 538.85v-13.05"/>
<path d="M1077.80 538.85v-13.05"/>
<path d="M1157.60 538.85v-13.05"/>
<path d="M1237.40 538.85v-13.05"/>
<path d="M1317.20 538.85v-13.05"/>
</g></g>
<g font-family="'Liberation Serif','Noto Serif CJK SC',serif" font-size="52" font-weight="300" fill="#231f20">
<text x="197.0" y="39.7" text-anchor="end">1.1</text>
<text x="197.0" y="113.1" text-anchor="end">1.0</text>
<text x="197.0" y="186.6" text-anchor="end">0.9</text>
<text x="197.0" y="260.0" text-anchor="end">0.8</text>
<text x="197.0" y="333.4" text-anchor="end">0.7</text>
<text x="197.0" y="406.9" text-anchor="end">0.6</text>
<text x="197.0" y="480.3" text-anchor="end">0.5</text>
<text x="197.0" y="553.7" text-anchor="end">0.4</text>
<text x="898.0" y="43.3" text-anchor="end">1.1</text>
<text x="898.0" y="116.6" text-anchor="end">1.0</text>
<text x="898.0" y="189.9" text-anchor="end">0.9</text>
<text x="898.0" y="263.2" text-anchor="end">0.8</text>
<text x="898.0" y="336.5" text-anchor="end">0.7</text>
<text x="898.0" y="409.8" text-anchor="end">0.6</text>
<text x="898.0" y="483.1" text-anchor="end">0.5</text>
<text x="898.0" y="556.4" text-anchor="end">0.4</text>
<text x="217.1" y="592.9" text-anchor="middle">0</text>
<text x="296.2" y="592.9" text-anchor="middle">2</text>
<text x="375.2" y="592.9" text-anchor="middle">4</text>
<text x="454.3" y="592.9" text-anchor="middle">6</text>
<text x="533.4" y="592.9" text-anchor="middle">8</text>
<text x="613.0" y="592.9" text-anchor="middle">10</text>
<text x="692.1" y="592.9" text-anchor="middle">12</text>
<text x="917.3" y="595.9" text-anchor="middle">0</text>
<text x="996.6" y="595.9" text-anchor="middle">2</text>
<text x="1075.9" y="595.9" text-anchor="middle">4</text>
<text x="1155.2" y="595.9" text-anchor="middle">6</text>
<text x="1234.5" y="595.9" text-anchor="middle">8</text>
<text x="1312.8" y="595.9" text-anchor="middle">10</text>
<text x="1392.1" y="595.9" text-anchor="middle">12</text>
<text x="454.6" y="658.5" text-anchor="middle">时间/s</text>
<text x="454.2" y="729" text-anchor="middle">(a) 传统一致性偏航角</text>
<text x="453.8" y="792" text-anchor="middle">控制响应曲线</text>
<text transform="translate(103 280) rotate(-90)" text-anchor="middle"><tspan letter-spacing="0.9">偏航角</tspan>/rad</text>
<text x="1155.4" y="662.3" text-anchor="middle">时间/s</text>
<text x="1154.5" y="729" text-anchor="middle">(b) 改进一致性偏航角</text>
<text x="1154.4" y="792" text-anchor="middle">控制响应曲线</text>
<text transform="translate(804.8 281.7) rotate(-90)" text-anchor="middle"><tspan letter-spacing="0.9">偏航角</tspan>/rad</text>
<path d="M78.6 864.45h67.2" stroke="#3d6db0" stroke-width="3.3" stroke-linecap="round" fill="none"/>
<text x="165.0" y="879">1号无人机</text>
<path d="M424.9 864.45h67.2" stroke="#be4b2f" stroke-width="3.3" stroke-linecap="round" fill="none"/>
<text x="511.3" y="879">2号无人机</text>
<path d="M771.2 864.45h67.2" stroke="#d4a03b" stroke-width="3.3" stroke-linecap="round" fill="none"/>
<text x="857.6" y="879">3号无人机</text>
<path d="M1117.5 864.45h67.2" stroke="#692c86" stroke-width="3.3" stroke-linecap="round" fill="none"/>
<text x="1203.9" y="879">4号无人机</text>
</g>
</svg>
</body></html>
